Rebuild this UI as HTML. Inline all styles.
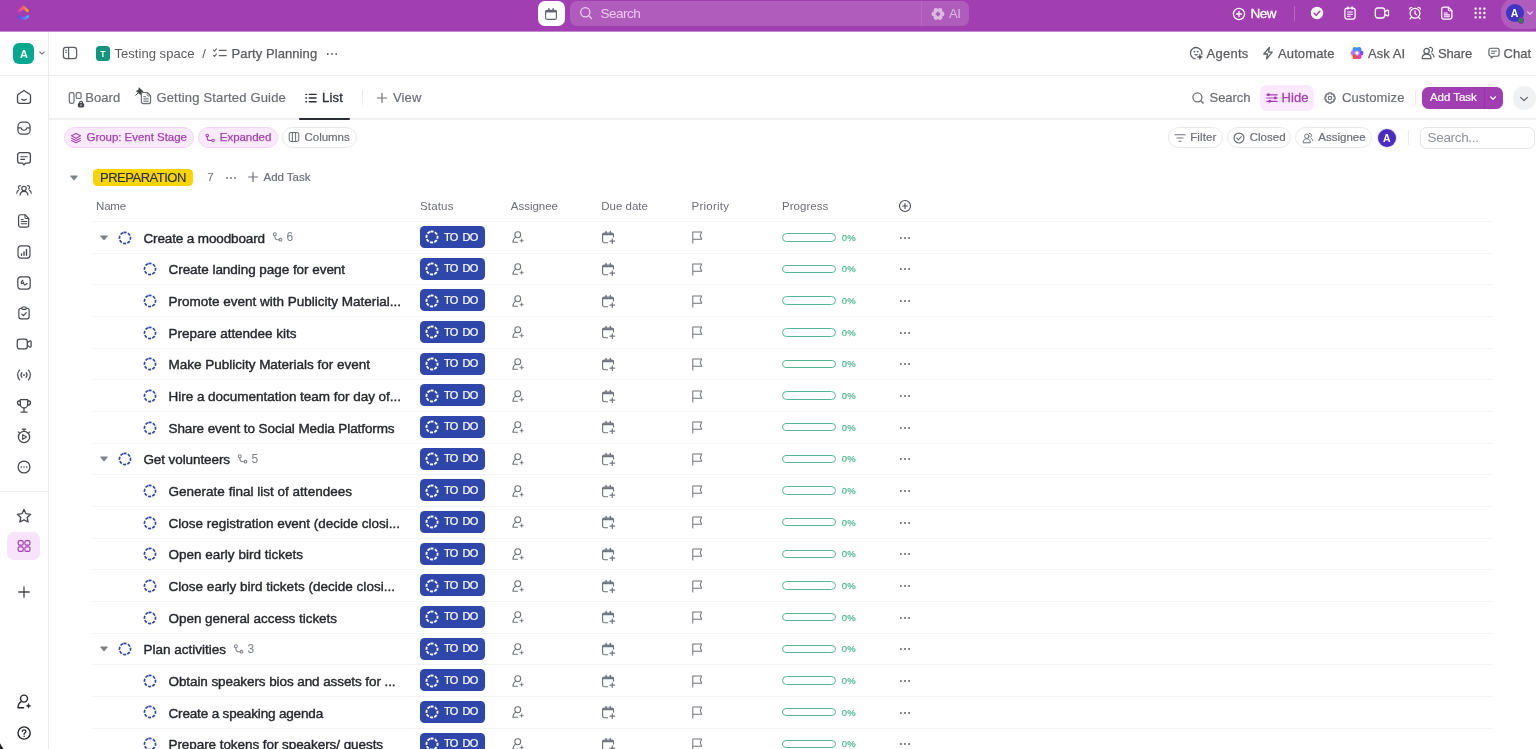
<!DOCTYPE html>
<html><head><meta charset="utf-8"><title>Party Planning</title>
<style>
html,body{margin:0;padding:0;}
body{width:1536px;height:749px;overflow:hidden;background:#fff;position:relative;font-family:"Liberation Sans",sans-serif;}
.t{position:absolute;white-space:nowrap;}
.b{position:absolute;box-sizing:border-box;}
#w{position:absolute;left:0;top:0;width:1536px;height:749px;will-change:transform;}
</style></head><body><div id="w">
<div class="b" style="left:0.00px;top:0.00px;width:1536.00px;height:31.00px;background:#a13fb2;"></div>
<div class="b" style="left:0.00px;top:31.00px;width:1536.00px;height:1.00px;background:#c48acf;"></div>
<div class="b" style="left:537.80px;top:1.00px;width:27.00px;height:25.00px;background:#fff;border-radius:7px;"></div>
<div class="b" style="left:570.00px;top:1.00px;width:398.50px;height:25.00px;background:#b05cbd;border-radius:7px;"></div>
<div class="b" style="left:921.00px;top:1.00px;width:1.00px;height:25.00px;background:#b768c3;"></div>
<div class="t" style="left:600.50px;top:3.60px;line-height:20px;font-size:13.5px;color:#e8cdec;letter-spacing:-0.479px;">Search</div>
<div class="t" style="left:949.00px;top:3.80px;line-height:20px;font-size:13px;color:#dcbbe2;letter-spacing:-0.491px;">AI</div>
<div class="t" style="left:1250.40px;top:3.60px;line-height:20px;font-size:13.5px;color:#ffffff;letter-spacing:-0.469px;-webkit-text-stroke:0.3px #ffffff;">New</div>
<div class="b" style="left:1294.00px;top:6.00px;width:1.00px;height:15.00px;background:#b768c3;"></div>
<div class="b" style="left:1500.80px;top:-2.00px;width:44.20px;height:30.50px;background:#b05cbd;border-radius:14px;"></div>
<div class="b" style="left:1505.50px;top:4.10px;width:18.00px;height:18.00px;background:#4034c4;border-radius:50%;"></div>
<div class="t" style="left:1510.70px;top:3.20px;line-height:20px;font-size:10.5px;color:#fff;letter-spacing:0.000px;font-weight:700;">A</div>
<div class="b" style="left:1517.90px;top:17.20px;width:6.40px;height:6.40px;background:#1f8a4c;border:0.8px solid #7a3a9a;border-radius:50%;"></div>
<div class="b" style="left:48.30px;top:32.00px;width:1.00px;height:717.00px;background:#ebebeb;"></div>
<div class="b" style="left:12.70px;top:42.50px;width:21.80px;height:21.70px;background:#02a98e;border-radius:6px;"></div>
<div class="t" style="left:19.90px;top:43.50px;line-height:20px;font-size:11px;color:#fff;letter-spacing:0.000px;font-weight:700;">A</div>
<div class="b" style="left:0.00px;top:75.00px;width:1536.00px;height:1.00px;background:#ebebeb;"></div>
<div class="b" style="left:0.00px;top:491.00px;width:48.30px;height:1.00px;background:#ebebeb;"></div>
<div class="b" style="left:95.90px;top:46.30px;width:14.40px;height:14.40px;background:#12947f;border-radius:3.5px;"></div>
<div class="t" style="left:100.35px;top:43.60px;line-height:20px;font-size:8.5px;color:#fff;letter-spacing:0.000px;font-weight:700;">T</div>
<div class="t" style="left:114.50px;top:44.40px;line-height:20px;font-size:13px;color:#595b5f;letter-spacing:0.039px;">Testing space</div>
<div class="t" style="left:202.30px;top:44.40px;line-height:20px;font-size:13px;color:#595b5f;letter-spacing:0.000px;">/</div>
<div class="t" style="left:231.60px;top:44.40px;line-height:20px;font-size:13px;color:#595b5f;letter-spacing:0.075px;-webkit-text-stroke:0.25px #595b5f;">Party Planning</div>
<div class="t" style="left:1206.50px;top:44.40px;line-height:20px;font-size:13px;color:#595b5f;letter-spacing:0.255px;-webkit-text-stroke:0.25px #595b5f;">Agents</div>
<div class="t" style="left:1278.00px;top:44.40px;line-height:20px;font-size:13px;color:#595b5f;letter-spacing:0.120px;-webkit-text-stroke:0.25px #595b5f;">Automate</div>
<div class="t" style="left:1368.10px;top:44.40px;line-height:20px;font-size:13px;color:#595b5f;letter-spacing:0.025px;-webkit-text-stroke:0.25px #595b5f;">Ask AI</div>
<div class="t" style="left:1438.00px;top:44.40px;line-height:20px;font-size:13px;color:#595b5f;letter-spacing:-0.138px;-webkit-text-stroke:0.25px #595b5f;">Share</div>
<div class="t" style="left:1503.50px;top:44.40px;line-height:20px;font-size:13px;color:#595b5f;letter-spacing:0.010px;-webkit-text-stroke:0.25px #595b5f;">Chat</div>
<div class="b" style="left:49.00px;top:118.00px;width:1487.00px;height:2.00px;background:#f0f0f0;"></div>
<div class="b" style="left:299.40px;top:118.00px;width:50.20px;height:2.00px;background:#2a2e34;border-radius:1px;"></div>
<div class="t" style="left:85.30px;top:87.60px;line-height:20px;font-size:13px;color:#6b6e75;letter-spacing:0.062px;-webkit-text-stroke:0.2px #6b6e75;">Board</div>
<div class="t" style="left:156.40px;top:87.60px;line-height:20px;font-size:13px;color:#6b6e75;letter-spacing:0.184px;-webkit-text-stroke:0.2px #6b6e75;">Getting Started Guide</div>
<div class="t" style="left:322.00px;top:87.60px;line-height:20px;font-size:13px;color:#2a2e34;letter-spacing:0.193px;-webkit-text-stroke:0.3px #2a2e34;">List</div>
<div class="b" style="left:361.50px;top:90.00px;width:1.00px;height:15.00px;background:#ebebeb;"></div>
<div class="t" style="left:393.00px;top:87.60px;line-height:20px;font-size:13px;color:#6b6e75;letter-spacing:0.139px;-webkit-text-stroke:0.2px #6b6e75;">View</div>
<div class="t" style="left:1209.50px;top:87.60px;line-height:20px;font-size:13px;color:#6b6e75;letter-spacing:-0.032px;-webkit-text-stroke:0.2px #6b6e75;">Search</div>
<div class="b" style="left:1260.00px;top:85.00px;width:54.00px;height:26.00px;background:#fbeafd;border-radius:6.5px;"></div>
<div class="t" style="left:1281.50px;top:87.60px;line-height:20px;font-size:13px;color:#a63fb5;letter-spacing:0.066px;-webkit-text-stroke:0.3px #a63fb5;">Hide</div>
<div class="t" style="left:1342.00px;top:87.60px;line-height:20px;font-size:13px;color:#6b6e75;letter-spacing:0.122px;-webkit-text-stroke:0.2px #6b6e75;">Customize</div>
<div class="b" style="left:1415.10px;top:90.20px;width:1.00px;height:14.80px;background:#ebebeb;"></div>
<div class="b" style="left:1421.80px;top:86.90px;width:80.80px;height:21.80px;background:#a13fb2;border-radius:6.5px;"></div>
<div class="b" style="left:1484.20px;top:86.90px;width:1.00px;height:21.80px;background:#9535a6;"></div>
<div class="t" style="left:1430.00px;top:87.00px;line-height:20px;font-size:11.5px;color:#fff;letter-spacing:-0.062px;-webkit-text-stroke:0.2px #fff;">Add Task</div>
<div class="b" style="left:1512.50px;top:86.00px;width:23.60px;height:23.60px;background:#f0f1f3;border-radius:50%;"></div>
<div class="b" style="left:63.50px;top:126.80px;width:130.30px;height:21.60px;background:#faebfc;border:1px solid #f1d4f5;border-radius:11px;"></div>
<div class="t" style="left:86.50px;top:126.70px;line-height:20px;font-size:11.5px;color:#a63fb5;letter-spacing:-0.034px;-webkit-text-stroke:0.25px #a63fb5;">Group: Event Stage</div>
<div class="b" style="left:197.50px;top:126.80px;width:80.00px;height:21.60px;background:#faebfc;border:1px solid #f1d4f5;border-radius:11px;"></div>
<div class="t" style="left:219.80px;top:126.70px;line-height:20px;font-size:11.5px;color:#a63fb5;letter-spacing:-0.037px;-webkit-text-stroke:0.25px #a63fb5;">Expanded</div>
<div class="b" style="left:281.70px;top:126.80px;width:75.00px;height:21.60px;background:#fff;border:1px solid #e6e8ec;border-radius:11px;"></div>
<div class="t" style="left:304.60px;top:126.70px;line-height:20px;font-size:11.5px;color:#6b6e75;letter-spacing:-0.054px;-webkit-text-stroke:0.2px #6b6e75;">Columns</div>
<div class="b" style="left:1167.60px;top:126.80px;width:55.30px;height:21.60px;background:#fff;border:1px solid #e6e8ec;border-radius:11px;"></div>
<div class="t" style="left:1190.20px;top:126.70px;line-height:20px;font-size:11.5px;color:#6b6e75;letter-spacing:0.141px;-webkit-text-stroke:0.2px #6b6e75;">Filter</div>
<div class="b" style="left:1226.60px;top:126.80px;width:64.90px;height:21.60px;background:#fff;border:1px solid #e6e8ec;border-radius:11px;"></div>
<div class="t" style="left:1249.70px;top:126.70px;line-height:20px;font-size:11.5px;color:#6b6e75;letter-spacing:0.034px;-webkit-text-stroke:0.2px #6b6e75;">Closed</div>
<div class="b" style="left:1295.20px;top:126.80px;width:76.70px;height:21.60px;background:#fff;border:1px solid #e6e8ec;border-radius:11px;"></div>
<div class="t" style="left:1318.30px;top:126.70px;line-height:20px;font-size:11.5px;color:#6b6e75;letter-spacing:-0.001px;-webkit-text-stroke:0.2px #6b6e75;">Assignee</div>
<div class="b" style="left:1376.70px;top:127.80px;width:20.40px;height:20.40px;background:#e3dff7;border-radius:50%;"></div>
<div class="b" style="left:1377.90px;top:129.00px;width:18.00px;height:18.00px;background:#4a2bc4;border-radius:50%;"></div>
<div class="t" style="left:1383.10px;top:128.00px;line-height:20px;font-size:10.5px;color:#fff;letter-spacing:0.000px;font-weight:700;">A</div>
<div class="b" style="left:1408.00px;top:130.00px;width:1.00px;height:15.00px;background:#ebebeb;"></div>
<div class="b" style="left:1420.30px;top:127.00px;width:115.10px;height:21.70px;background:#fff;border:1px solid #e2e5e9;border-radius:6.5px;"></div>
<div class="t" style="left:1427.60px;top:128.20px;line-height:20px;font-size:13.5px;color:#8d939c;letter-spacing:-0.336px;">Search...</div>
<div class="b" style="left:92.80px;top:169.00px;width:100.20px;height:16.80px;background:#f8d500;border-radius:4.5px;"></div>
<div class="t" style="left:100.00px;top:167.50px;line-height:20px;font-size:13px;color:#2a2e34;letter-spacing:-0.496px;-webkit-text-stroke:0.15px #2a2e34;">PREPARATION</div>
<div class="t" style="left:207.30px;top:167.30px;line-height:20px;font-size:11.5px;color:#6b6e75;letter-spacing:0.000px;">7</div>
<div class="t" style="left:263.50px;top:167.30px;line-height:20px;font-size:11.5px;color:#6b6e75;letter-spacing:-0.025px;-webkit-text-stroke:0.2px #6b6e75;">Add Task</div>
<div class="t" style="left:96.00px;top:196.20px;line-height:20px;font-size:11.5px;color:#6b6e75;letter-spacing:-0.169px;">Name</div>
<div class="t" style="left:420.00px;top:196.20px;line-height:20px;font-size:11.5px;color:#6b6e75;letter-spacing:0.166px;">Status</div>
<div class="t" style="left:510.80px;top:196.20px;line-height:20px;font-size:11.5px;color:#6b6e75;letter-spacing:-0.026px;">Assignee</div>
<div class="t" style="left:601.20px;top:196.20px;line-height:20px;font-size:11.5px;color:#6b6e75;letter-spacing:0.003px;">Due date</div>
<div class="t" style="left:691.60px;top:196.20px;line-height:20px;font-size:11.5px;color:#6b6e75;letter-spacing:0.227px;">Priority</div>
<div class="t" style="left:782.00px;top:196.20px;line-height:20px;font-size:11.5px;color:#6b6e75;letter-spacing:0.048px;">Progress</div>
<div class="b" style="left:93.00px;top:221.00px;width:1399.50px;height:1.00px;background:#f2f3f3;"></div>
<svg class="b" style="left:116.85px;top:229.58px" width="16" height="16" viewBox="0 0 16 16"><circle cx="8" cy="8" r="5.55" fill="none" stroke="#2f46ab" stroke-width="1.7" stroke-dasharray="3.051 1.308" transform="rotate(-105.75 8 8)"/></svg>
<svg class="b" style="left:99.50px;top:234.78px" width="8" height="6" viewBox="0 0 8 6"><path d="M0.9 0.6h6.2c0.5 0 0.7 0.5 0.4 0.9L4.5 5c-0.3 0.3-0.7 0.3-1 0L0.5 1.5C0.2 1.1 0.4 0.6 0.9 0.6z" fill="#7d8188"/></svg>
<div class="t" style="left:143.40px;top:228.63px;line-height:20px;font-size:13.5px;color:#25282d;letter-spacing:-0.124px;-webkit-text-stroke:0.4px #25282d;">Create a moodboard</div>
<svg class="b" style="left:271.30px;top:230.13px" width="14" height="14" viewBox="0 0 14 14" fill="none" stroke="#80858d" stroke-width="1.05" stroke-linecap="round"><circle cx="3.800" cy="4.300" r="1.500"/><circle cx="9.500" cy="9.700" r="1.350"/><path d="M3.900 5.900v1.200c0 1.500 1.100 2.600 2.600 2.600h1.600"/></svg>
<div class="t" style="left:286.40px;top:227.03px;line-height:20px;font-size:12px;color:#7a7f87;letter-spacing:0.000px;">6</div>
<div class="b" style="left:420.10px;top:226.13px;width:64.90px;height:21.80px;background:#2f46ab;border-radius:4.5px;"></div>
<svg class="b" style="left:423.60px;top:229.28px" width="16" height="16" viewBox="0 0 16 16"><circle cx="8" cy="8" r="5.55" fill="none" stroke="#fff" stroke-width="1.9" stroke-dasharray="3.051 1.308" transform="rotate(-105.75 8 8)"/></svg>
<div class="t" style="left:444.00px;top:226.53px;line-height:20px;font-size:11px;color:#fff;letter-spacing:-0.647px;word-spacing:2.2px;-webkit-text-stroke:0.2px #fff;">TO DO</div>
<svg class="b" style="left:510.00px;top:229.33px" width="16" height="16" viewBox="0 0 16 16" fill="none" stroke="#70747b" stroke-width="1.15" stroke-linecap="round" stroke-linejoin="round"><g transform="translate(0.45 0.6) scale(0.95)"><circle cx="7.7" cy="5.4" r="3.1"/><path d="M5.6 7.9C3.8 8.9 2.7 10.9 2.6 13.3H7.4"/><path d="M11.8 9.3c0.2 1.5 0.8 2.1 2.3 2.3c-1.5 0.2-2.1 0.8-2.3 2.3c-0.2-1.5-0.8-2.1-2.3-2.3c1.5-0.2 2.1-0.8 2.3-2.3z" fill="#70747b" stroke-width="0.3"/></g></svg>
<svg class="b" style="left:600.00px;top:229.33px" width="16" height="16" viewBox="0 0 16 16" fill="none" stroke="#70747b" stroke-width="1.15" stroke-linecap="round" stroke-linejoin="round"><path d="M7.600 13.700H4.400c-1 0-1.800-0.800-1.800-1.800V5.900c0-1 0.800-1.800 1.800-1.800h7.300c1 0 1.800 0.800 1.800 1.800v2.200"/><path d="M2.900 5.300h10.300" stroke-width="1.700"/><path d="M6.100 2.400v1.800M10.300 2.400v1.800" stroke-width="1.400"/><path d="M12.300 9.900v4.600M10 12.200h4.600" stroke-width="1.200"/></svg>
<svg class="b" style="left:689.90px;top:229.33px" width="16" height="16" viewBox="0 0 16 16" fill="none" stroke="#70747b" stroke-width="1.05" stroke-linecap="round" stroke-linejoin="round"><path d="M2.8 13.9V2.9h8.9L10.2 6.6l1.5 3.7H2.8"/></svg>
<div class="b" style="left:781.70px;top:233.13px;width:54.30px;height:8.40px;border:1.2px solid #52b891;border-radius:5px;background:#fff;"></div>
<div class="t" style="left:841.80px;top:227.73px;line-height:20px;font-size:9.5px;color:#52b891;letter-spacing:0.085px;-webkit-text-stroke:0.25px #52b891;">0%</div>
<svg class="b" style="left:897.00px;top:234.83px" width="16" height="6" viewBox="0 0 16 6"><circle cx="3.9000000000000004" cy="3" r="0.88" fill="#4d5158"/><circle cx="8" cy="3" r="0.88" fill="#4d5158"/><circle cx="12.1" cy="3" r="0.88" fill="#4d5158"/></svg>
<div class="b" style="left:93.00px;top:253.00px;width:1399.50px;height:1.00px;background:#f2f3f3;"></div>
<svg class="b" style="left:142.10px;top:261.24px" width="16" height="16" viewBox="0 0 16 16"><circle cx="8" cy="8" r="5.55" fill="none" stroke="#2f46ab" stroke-width="1.7" stroke-dasharray="3.051 1.308" transform="rotate(-105.75 8 8)"/></svg>
<div class="t" style="left:168.50px;top:260.29px;line-height:20px;font-size:13.5px;color:#25282d;letter-spacing:-0.047px;-webkit-text-stroke:0.4px #25282d;">Create landing page for event</div>
<div class="b" style="left:420.10px;top:257.79px;width:64.90px;height:21.80px;background:#2f46ab;border-radius:4.5px;"></div>
<svg class="b" style="left:423.60px;top:260.94px" width="16" height="16" viewBox="0 0 16 16"><circle cx="8" cy="8" r="5.55" fill="none" stroke="#fff" stroke-width="1.9" stroke-dasharray="3.051 1.308" transform="rotate(-105.75 8 8)"/></svg>
<div class="t" style="left:444.00px;top:258.19px;line-height:20px;font-size:11px;color:#fff;letter-spacing:-0.647px;word-spacing:2.2px;-webkit-text-stroke:0.2px #fff;">TO DO</div>
<svg class="b" style="left:510.00px;top:260.99px" width="16" height="16" viewBox="0 0 16 16" fill="none" stroke="#70747b" stroke-width="1.15" stroke-linecap="round" stroke-linejoin="round"><g transform="translate(0.45 0.6) scale(0.95)"><circle cx="7.7" cy="5.4" r="3.1"/><path d="M5.6 7.9C3.8 8.9 2.7 10.9 2.6 13.3H7.4"/><path d="M11.8 9.3c0.2 1.5 0.8 2.1 2.3 2.3c-1.5 0.2-2.1 0.8-2.3 2.3c-0.2-1.5-0.8-2.1-2.3-2.3c1.5-0.2 2.1-0.8 2.3-2.3z" fill="#70747b" stroke-width="0.3"/></g></svg>
<svg class="b" style="left:600.00px;top:260.99px" width="16" height="16" viewBox="0 0 16 16" fill="none" stroke="#70747b" stroke-width="1.15" stroke-linecap="round" stroke-linejoin="round"><path d="M7.600 13.700H4.400c-1 0-1.800-0.800-1.800-1.800V5.900c0-1 0.800-1.800 1.800-1.800h7.300c1 0 1.800 0.800 1.800 1.800v2.200"/><path d="M2.900 5.300h10.300" stroke-width="1.700"/><path d="M6.100 2.400v1.800M10.300 2.400v1.800" stroke-width="1.400"/><path d="M12.300 9.900v4.600M10 12.200h4.600" stroke-width="1.200"/></svg>
<svg class="b" style="left:689.90px;top:260.99px" width="16" height="16" viewBox="0 0 16 16" fill="none" stroke="#70747b" stroke-width="1.05" stroke-linecap="round" stroke-linejoin="round"><path d="M2.8 13.9V2.9h8.9L10.2 6.6l1.5 3.7H2.8"/></svg>
<div class="b" style="left:781.70px;top:264.79px;width:54.30px;height:8.40px;border:1.2px solid #52b891;border-radius:5px;background:#fff;"></div>
<div class="t" style="left:841.80px;top:259.39px;line-height:20px;font-size:9.5px;color:#52b891;letter-spacing:0.085px;-webkit-text-stroke:0.25px #52b891;">0%</div>
<svg class="b" style="left:897.00px;top:266.49px" width="16" height="6" viewBox="0 0 16 6"><circle cx="3.9000000000000004" cy="3" r="0.88" fill="#4d5158"/><circle cx="8" cy="3" r="0.88" fill="#4d5158"/><circle cx="12.1" cy="3" r="0.88" fill="#4d5158"/></svg>
<div class="b" style="left:93.00px;top:284.00px;width:1399.50px;height:1.00px;background:#f2f3f3;"></div>
<svg class="b" style="left:142.10px;top:292.90px" width="16" height="16" viewBox="0 0 16 16"><circle cx="8" cy="8" r="5.55" fill="none" stroke="#2f46ab" stroke-width="1.7" stroke-dasharray="3.051 1.308" transform="rotate(-105.75 8 8)"/></svg>
<div class="t" style="left:168.50px;top:291.95px;line-height:20px;font-size:13.5px;color:#25282d;letter-spacing:-0.002px;-webkit-text-stroke:0.4px #25282d;">Promote event with Publicity Material...</div>
<div class="b" style="left:420.10px;top:289.45px;width:64.90px;height:21.80px;background:#2f46ab;border-radius:4.5px;"></div>
<svg class="b" style="left:423.60px;top:292.60px" width="16" height="16" viewBox="0 0 16 16"><circle cx="8" cy="8" r="5.55" fill="none" stroke="#fff" stroke-width="1.9" stroke-dasharray="3.051 1.308" transform="rotate(-105.75 8 8)"/></svg>
<div class="t" style="left:444.00px;top:289.85px;line-height:20px;font-size:11px;color:#fff;letter-spacing:-0.647px;word-spacing:2.2px;-webkit-text-stroke:0.2px #fff;">TO DO</div>
<svg class="b" style="left:510.00px;top:292.65px" width="16" height="16" viewBox="0 0 16 16" fill="none" stroke="#70747b" stroke-width="1.15" stroke-linecap="round" stroke-linejoin="round"><g transform="translate(0.45 0.6) scale(0.95)"><circle cx="7.7" cy="5.4" r="3.1"/><path d="M5.6 7.9C3.8 8.9 2.7 10.9 2.6 13.3H7.4"/><path d="M11.8 9.3c0.2 1.5 0.8 2.1 2.3 2.3c-1.5 0.2-2.1 0.8-2.3 2.3c-0.2-1.5-0.8-2.1-2.3-2.3c1.5-0.2 2.1-0.8 2.3-2.3z" fill="#70747b" stroke-width="0.3"/></g></svg>
<svg class="b" style="left:600.00px;top:292.65px" width="16" height="16" viewBox="0 0 16 16" fill="none" stroke="#70747b" stroke-width="1.15" stroke-linecap="round" stroke-linejoin="round"><path d="M7.600 13.700H4.400c-1 0-1.800-0.800-1.800-1.800V5.900c0-1 0.800-1.800 1.800-1.800h7.300c1 0 1.800 0.800 1.800 1.800v2.200"/><path d="M2.900 5.300h10.300" stroke-width="1.700"/><path d="M6.100 2.400v1.800M10.300 2.400v1.800" stroke-width="1.400"/><path d="M12.300 9.900v4.600M10 12.200h4.600" stroke-width="1.200"/></svg>
<svg class="b" style="left:689.90px;top:292.65px" width="16" height="16" viewBox="0 0 16 16" fill="none" stroke="#70747b" stroke-width="1.05" stroke-linecap="round" stroke-linejoin="round"><path d="M2.8 13.9V2.9h8.9L10.2 6.6l1.5 3.7H2.8"/></svg>
<div class="b" style="left:781.70px;top:296.45px;width:54.30px;height:8.40px;border:1.2px solid #52b891;border-radius:5px;background:#fff;"></div>
<div class="t" style="left:841.80px;top:291.05px;line-height:20px;font-size:9.5px;color:#52b891;letter-spacing:0.085px;-webkit-text-stroke:0.25px #52b891;">0%</div>
<svg class="b" style="left:897.00px;top:298.15px" width="16" height="6" viewBox="0 0 16 6"><circle cx="3.9000000000000004" cy="3" r="0.88" fill="#4d5158"/><circle cx="8" cy="3" r="0.88" fill="#4d5158"/><circle cx="12.1" cy="3" r="0.88" fill="#4d5158"/></svg>
<div class="b" style="left:93.00px;top:316.00px;width:1399.50px;height:1.00px;background:#f2f3f3;"></div>
<svg class="b" style="left:142.10px;top:324.56px" width="16" height="16" viewBox="0 0 16 16"><circle cx="8" cy="8" r="5.55" fill="none" stroke="#2f46ab" stroke-width="1.7" stroke-dasharray="3.051 1.308" transform="rotate(-105.75 8 8)"/></svg>
<div class="t" style="left:168.50px;top:323.61px;line-height:20px;font-size:13.5px;color:#25282d;letter-spacing:-0.016px;-webkit-text-stroke:0.4px #25282d;">Prepare attendee kits</div>
<div class="b" style="left:420.10px;top:321.11px;width:64.90px;height:21.80px;background:#2f46ab;border-radius:4.5px;"></div>
<svg class="b" style="left:423.60px;top:324.26px" width="16" height="16" viewBox="0 0 16 16"><circle cx="8" cy="8" r="5.55" fill="none" stroke="#fff" stroke-width="1.9" stroke-dasharray="3.051 1.308" transform="rotate(-105.75 8 8)"/></svg>
<div class="t" style="left:444.00px;top:321.51px;line-height:20px;font-size:11px;color:#fff;letter-spacing:-0.647px;word-spacing:2.2px;-webkit-text-stroke:0.2px #fff;">TO DO</div>
<svg class="b" style="left:510.00px;top:324.31px" width="16" height="16" viewBox="0 0 16 16" fill="none" stroke="#70747b" stroke-width="1.15" stroke-linecap="round" stroke-linejoin="round"><g transform="translate(0.45 0.6) scale(0.95)"><circle cx="7.7" cy="5.4" r="3.1"/><path d="M5.6 7.9C3.8 8.9 2.7 10.9 2.6 13.3H7.4"/><path d="M11.8 9.3c0.2 1.5 0.8 2.1 2.3 2.3c-1.5 0.2-2.1 0.8-2.3 2.3c-0.2-1.5-0.8-2.1-2.3-2.3c1.5-0.2 2.1-0.8 2.3-2.3z" fill="#70747b" stroke-width="0.3"/></g></svg>
<svg class="b" style="left:600.00px;top:324.31px" width="16" height="16" viewBox="0 0 16 16" fill="none" stroke="#70747b" stroke-width="1.15" stroke-linecap="round" stroke-linejoin="round"><path d="M7.600 13.700H4.400c-1 0-1.800-0.800-1.800-1.800V5.900c0-1 0.800-1.800 1.800-1.800h7.300c1 0 1.800 0.800 1.800 1.800v2.200"/><path d="M2.900 5.300h10.300" stroke-width="1.700"/><path d="M6.100 2.400v1.800M10.300 2.400v1.800" stroke-width="1.400"/><path d="M12.300 9.900v4.600M10 12.200h4.600" stroke-width="1.200"/></svg>
<svg class="b" style="left:689.90px;top:324.31px" width="16" height="16" viewBox="0 0 16 16" fill="none" stroke="#70747b" stroke-width="1.05" stroke-linecap="round" stroke-linejoin="round"><path d="M2.8 13.9V2.9h8.9L10.2 6.6l1.5 3.7H2.8"/></svg>
<div class="b" style="left:781.70px;top:328.11px;width:54.30px;height:8.40px;border:1.2px solid #52b891;border-radius:5px;background:#fff;"></div>
<div class="t" style="left:841.80px;top:322.71px;line-height:20px;font-size:9.5px;color:#52b891;letter-spacing:0.085px;-webkit-text-stroke:0.25px #52b891;">0%</div>
<svg class="b" style="left:897.00px;top:329.81px" width="16" height="6" viewBox="0 0 16 6"><circle cx="3.9000000000000004" cy="3" r="0.88" fill="#4d5158"/><circle cx="8" cy="3" r="0.88" fill="#4d5158"/><circle cx="12.1" cy="3" r="0.88" fill="#4d5158"/></svg>
<div class="b" style="left:93.00px;top:348.00px;width:1399.50px;height:1.00px;background:#f2f3f3;"></div>
<svg class="b" style="left:142.10px;top:356.22px" width="16" height="16" viewBox="0 0 16 16"><circle cx="8" cy="8" r="5.55" fill="none" stroke="#2f46ab" stroke-width="1.7" stroke-dasharray="3.051 1.308" transform="rotate(-105.75 8 8)"/></svg>
<div class="t" style="left:168.50px;top:355.27px;line-height:20px;font-size:13.5px;color:#25282d;letter-spacing:-0.010px;-webkit-text-stroke:0.4px #25282d;">Make Publicity Materials for event</div>
<div class="b" style="left:420.10px;top:352.77px;width:64.90px;height:21.80px;background:#2f46ab;border-radius:4.5px;"></div>
<svg class="b" style="left:423.60px;top:355.92px" width="16" height="16" viewBox="0 0 16 16"><circle cx="8" cy="8" r="5.55" fill="none" stroke="#fff" stroke-width="1.9" stroke-dasharray="3.051 1.308" transform="rotate(-105.75 8 8)"/></svg>
<div class="t" style="left:444.00px;top:353.17px;line-height:20px;font-size:11px;color:#fff;letter-spacing:-0.647px;word-spacing:2.2px;-webkit-text-stroke:0.2px #fff;">TO DO</div>
<svg class="b" style="left:510.00px;top:355.97px" width="16" height="16" viewBox="0 0 16 16" fill="none" stroke="#70747b" stroke-width="1.15" stroke-linecap="round" stroke-linejoin="round"><g transform="translate(0.45 0.6) scale(0.95)"><circle cx="7.7" cy="5.4" r="3.1"/><path d="M5.6 7.9C3.8 8.9 2.7 10.9 2.6 13.3H7.4"/><path d="M11.8 9.3c0.2 1.5 0.8 2.1 2.3 2.3c-1.5 0.2-2.1 0.8-2.3 2.3c-0.2-1.5-0.8-2.1-2.3-2.3c1.5-0.2 2.1-0.8 2.3-2.3z" fill="#70747b" stroke-width="0.3"/></g></svg>
<svg class="b" style="left:600.00px;top:355.97px" width="16" height="16" viewBox="0 0 16 16" fill="none" stroke="#70747b" stroke-width="1.15" stroke-linecap="round" stroke-linejoin="round"><path d="M7.600 13.700H4.400c-1 0-1.800-0.800-1.800-1.800V5.900c0-1 0.800-1.800 1.800-1.800h7.300c1 0 1.800 0.800 1.800 1.800v2.200"/><path d="M2.900 5.300h10.300" stroke-width="1.700"/><path d="M6.100 2.400v1.800M10.300 2.400v1.800" stroke-width="1.400"/><path d="M12.300 9.900v4.600M10 12.200h4.600" stroke-width="1.200"/></svg>
<svg class="b" style="left:689.90px;top:355.97px" width="16" height="16" viewBox="0 0 16 16" fill="none" stroke="#70747b" stroke-width="1.05" stroke-linecap="round" stroke-linejoin="round"><path d="M2.8 13.9V2.9h8.9L10.2 6.6l1.5 3.7H2.8"/></svg>
<div class="b" style="left:781.70px;top:359.77px;width:54.30px;height:8.40px;border:1.2px solid #52b891;border-radius:5px;background:#fff;"></div>
<div class="t" style="left:841.80px;top:354.37px;line-height:20px;font-size:9.5px;color:#52b891;letter-spacing:0.085px;-webkit-text-stroke:0.25px #52b891;">0%</div>
<svg class="b" style="left:897.00px;top:361.47px" width="16" height="6" viewBox="0 0 16 6"><circle cx="3.9000000000000004" cy="3" r="0.88" fill="#4d5158"/><circle cx="8" cy="3" r="0.88" fill="#4d5158"/><circle cx="12.1" cy="3" r="0.88" fill="#4d5158"/></svg>
<div class="b" style="left:93.00px;top:379.00px;width:1399.50px;height:1.00px;background:#f2f3f3;"></div>
<svg class="b" style="left:142.10px;top:387.88px" width="16" height="16" viewBox="0 0 16 16"><circle cx="8" cy="8" r="5.55" fill="none" stroke="#2f46ab" stroke-width="1.7" stroke-dasharray="3.051 1.308" transform="rotate(-105.75 8 8)"/></svg>
<div class="t" style="left:168.50px;top:386.93px;line-height:20px;font-size:13.5px;color:#25282d;letter-spacing:-0.022px;-webkit-text-stroke:0.4px #25282d;">Hire a documentation team for day of...</div>
<div class="b" style="left:420.10px;top:384.43px;width:64.90px;height:21.80px;background:#2f46ab;border-radius:4.5px;"></div>
<svg class="b" style="left:423.60px;top:387.58px" width="16" height="16" viewBox="0 0 16 16"><circle cx="8" cy="8" r="5.55" fill="none" stroke="#fff" stroke-width="1.9" stroke-dasharray="3.051 1.308" transform="rotate(-105.75 8 8)"/></svg>
<div class="t" style="left:444.00px;top:384.83px;line-height:20px;font-size:11px;color:#fff;letter-spacing:-0.647px;word-spacing:2.2px;-webkit-text-stroke:0.2px #fff;">TO DO</div>
<svg class="b" style="left:510.00px;top:387.63px" width="16" height="16" viewBox="0 0 16 16" fill="none" stroke="#70747b" stroke-width="1.15" stroke-linecap="round" stroke-linejoin="round"><g transform="translate(0.45 0.6) scale(0.95)"><circle cx="7.7" cy="5.4" r="3.1"/><path d="M5.6 7.9C3.8 8.9 2.7 10.9 2.6 13.3H7.4"/><path d="M11.8 9.3c0.2 1.5 0.8 2.1 2.3 2.3c-1.5 0.2-2.1 0.8-2.3 2.3c-0.2-1.5-0.8-2.1-2.3-2.3c1.5-0.2 2.1-0.8 2.3-2.3z" fill="#70747b" stroke-width="0.3"/></g></svg>
<svg class="b" style="left:600.00px;top:387.63px" width="16" height="16" viewBox="0 0 16 16" fill="none" stroke="#70747b" stroke-width="1.15" stroke-linecap="round" stroke-linejoin="round"><path d="M7.600 13.700H4.400c-1 0-1.800-0.800-1.800-1.800V5.900c0-1 0.800-1.800 1.800-1.800h7.300c1 0 1.800 0.800 1.800 1.800v2.200"/><path d="M2.900 5.300h10.300" stroke-width="1.700"/><path d="M6.100 2.400v1.800M10.300 2.400v1.800" stroke-width="1.400"/><path d="M12.300 9.900v4.600M10 12.200h4.600" stroke-width="1.200"/></svg>
<svg class="b" style="left:689.90px;top:387.63px" width="16" height="16" viewBox="0 0 16 16" fill="none" stroke="#70747b" stroke-width="1.05" stroke-linecap="round" stroke-linejoin="round"><path d="M2.8 13.9V2.9h8.9L10.2 6.6l1.5 3.7H2.8"/></svg>
<div class="b" style="left:781.70px;top:391.43px;width:54.30px;height:8.40px;border:1.2px solid #52b891;border-radius:5px;background:#fff;"></div>
<div class="t" style="left:841.80px;top:386.03px;line-height:20px;font-size:9.5px;color:#52b891;letter-spacing:0.085px;-webkit-text-stroke:0.25px #52b891;">0%</div>
<svg class="b" style="left:897.00px;top:393.13px" width="16" height="6" viewBox="0 0 16 6"><circle cx="3.9000000000000004" cy="3" r="0.88" fill="#4d5158"/><circle cx="8" cy="3" r="0.88" fill="#4d5158"/><circle cx="12.1" cy="3" r="0.88" fill="#4d5158"/></svg>
<div class="b" style="left:93.00px;top:411.00px;width:1399.50px;height:1.00px;background:#f2f3f3;"></div>
<svg class="b" style="left:142.10px;top:419.54px" width="16" height="16" viewBox="0 0 16 16"><circle cx="8" cy="8" r="5.55" fill="none" stroke="#2f46ab" stroke-width="1.7" stroke-dasharray="3.051 1.308" transform="rotate(-105.75 8 8)"/></svg>
<div class="t" style="left:168.50px;top:418.59px;line-height:20px;font-size:13.5px;color:#25282d;letter-spacing:-0.098px;-webkit-text-stroke:0.4px #25282d;">Share event to Social Media Platforms</div>
<div class="b" style="left:420.10px;top:416.09px;width:64.90px;height:21.80px;background:#2f46ab;border-radius:4.5px;"></div>
<svg class="b" style="left:423.60px;top:419.24px" width="16" height="16" viewBox="0 0 16 16"><circle cx="8" cy="8" r="5.55" fill="none" stroke="#fff" stroke-width="1.9" stroke-dasharray="3.051 1.308" transform="rotate(-105.75 8 8)"/></svg>
<div class="t" style="left:444.00px;top:416.49px;line-height:20px;font-size:11px;color:#fff;letter-spacing:-0.647px;word-spacing:2.2px;-webkit-text-stroke:0.2px #fff;">TO DO</div>
<svg class="b" style="left:510.00px;top:419.29px" width="16" height="16" viewBox="0 0 16 16" fill="none" stroke="#70747b" stroke-width="1.15" stroke-linecap="round" stroke-linejoin="round"><g transform="translate(0.45 0.6) scale(0.95)"><circle cx="7.7" cy="5.4" r="3.1"/><path d="M5.6 7.9C3.8 8.9 2.7 10.9 2.6 13.3H7.4"/><path d="M11.8 9.3c0.2 1.5 0.8 2.1 2.3 2.3c-1.5 0.2-2.1 0.8-2.3 2.3c-0.2-1.5-0.8-2.1-2.3-2.3c1.5-0.2 2.1-0.8 2.3-2.3z" fill="#70747b" stroke-width="0.3"/></g></svg>
<svg class="b" style="left:600.00px;top:419.29px" width="16" height="16" viewBox="0 0 16 16" fill="none" stroke="#70747b" stroke-width="1.15" stroke-linecap="round" stroke-linejoin="round"><path d="M7.600 13.700H4.400c-1 0-1.800-0.800-1.800-1.800V5.900c0-1 0.800-1.800 1.800-1.800h7.300c1 0 1.800 0.800 1.800 1.800v2.200"/><path d="M2.900 5.300h10.300" stroke-width="1.700"/><path d="M6.100 2.400v1.800M10.300 2.400v1.800" stroke-width="1.400"/><path d="M12.300 9.900v4.600M10 12.200h4.600" stroke-width="1.200"/></svg>
<svg class="b" style="left:689.90px;top:419.29px" width="16" height="16" viewBox="0 0 16 16" fill="none" stroke="#70747b" stroke-width="1.05" stroke-linecap="round" stroke-linejoin="round"><path d="M2.8 13.9V2.9h8.9L10.2 6.6l1.5 3.7H2.8"/></svg>
<div class="b" style="left:781.70px;top:423.09px;width:54.30px;height:8.40px;border:1.2px solid #52b891;border-radius:5px;background:#fff;"></div>
<div class="t" style="left:841.80px;top:417.69px;line-height:20px;font-size:9.5px;color:#52b891;letter-spacing:0.085px;-webkit-text-stroke:0.25px #52b891;">0%</div>
<svg class="b" style="left:897.00px;top:424.79px" width="16" height="6" viewBox="0 0 16 6"><circle cx="3.9000000000000004" cy="3" r="0.88" fill="#4d5158"/><circle cx="8" cy="3" r="0.88" fill="#4d5158"/><circle cx="12.1" cy="3" r="0.88" fill="#4d5158"/></svg>
<div class="b" style="left:93.00px;top:443.00px;width:1399.50px;height:1.00px;background:#f2f3f3;"></div>
<svg class="b" style="left:116.85px;top:451.20px" width="16" height="16" viewBox="0 0 16 16"><circle cx="8" cy="8" r="5.55" fill="none" stroke="#2f46ab" stroke-width="1.7" stroke-dasharray="3.051 1.308" transform="rotate(-105.75 8 8)"/></svg>
<svg class="b" style="left:99.50px;top:456.40px" width="8" height="6" viewBox="0 0 8 6"><path d="M0.9 0.6h6.2c0.5 0 0.7 0.5 0.4 0.9L4.5 5c-0.3 0.3-0.7 0.3-1 0L0.5 1.5C0.2 1.1 0.4 0.6 0.9 0.6z" fill="#7d8188"/></svg>
<div class="t" style="left:143.40px;top:450.25px;line-height:20px;font-size:13.5px;color:#25282d;letter-spacing:-0.085px;-webkit-text-stroke:0.4px #25282d;">Get volunteers</div>
<svg class="b" style="left:236.30px;top:451.75px" width="14" height="14" viewBox="0 0 14 14" fill="none" stroke="#80858d" stroke-width="1.05" stroke-linecap="round"><circle cx="3.800" cy="4.300" r="1.500"/><circle cx="9.500" cy="9.700" r="1.350"/><path d="M3.900 5.900v1.200c0 1.500 1.100 2.600 2.600 2.600h1.600"/></svg>
<div class="t" style="left:251.40px;top:448.65px;line-height:20px;font-size:12px;color:#7a7f87;letter-spacing:0.000px;">5</div>
<div class="b" style="left:420.10px;top:447.75px;width:64.90px;height:21.80px;background:#2f46ab;border-radius:4.5px;"></div>
<svg class="b" style="left:423.60px;top:450.90px" width="16" height="16" viewBox="0 0 16 16"><circle cx="8" cy="8" r="5.55" fill="none" stroke="#fff" stroke-width="1.9" stroke-dasharray="3.051 1.308" transform="rotate(-105.75 8 8)"/></svg>
<div class="t" style="left:444.00px;top:448.15px;line-height:20px;font-size:11px;color:#fff;letter-spacing:-0.647px;word-spacing:2.2px;-webkit-text-stroke:0.2px #fff;">TO DO</div>
<svg class="b" style="left:510.00px;top:450.95px" width="16" height="16" viewBox="0 0 16 16" fill="none" stroke="#70747b" stroke-width="1.15" stroke-linecap="round" stroke-linejoin="round"><g transform="translate(0.45 0.6) scale(0.95)"><circle cx="7.7" cy="5.4" r="3.1"/><path d="M5.6 7.9C3.8 8.9 2.7 10.9 2.6 13.3H7.4"/><path d="M11.8 9.3c0.2 1.5 0.8 2.1 2.3 2.3c-1.5 0.2-2.1 0.8-2.3 2.3c-0.2-1.5-0.8-2.1-2.3-2.3c1.5-0.2 2.1-0.8 2.3-2.3z" fill="#70747b" stroke-width="0.3"/></g></svg>
<svg class="b" style="left:600.00px;top:450.95px" width="16" height="16" viewBox="0 0 16 16" fill="none" stroke="#70747b" stroke-width="1.15" stroke-linecap="round" stroke-linejoin="round"><path d="M7.600 13.700H4.400c-1 0-1.800-0.800-1.800-1.800V5.900c0-1 0.800-1.800 1.800-1.800h7.300c1 0 1.800 0.800 1.800 1.800v2.200"/><path d="M2.900 5.300h10.300" stroke-width="1.700"/><path d="M6.100 2.400v1.800M10.300 2.400v1.800" stroke-width="1.400"/><path d="M12.300 9.900v4.600M10 12.200h4.600" stroke-width="1.200"/></svg>
<svg class="b" style="left:689.90px;top:450.95px" width="16" height="16" viewBox="0 0 16 16" fill="none" stroke="#70747b" stroke-width="1.05" stroke-linecap="round" stroke-linejoin="round"><path d="M2.8 13.9V2.9h8.9L10.2 6.6l1.5 3.7H2.8"/></svg>
<div class="b" style="left:781.70px;top:454.75px;width:54.30px;height:8.40px;border:1.2px solid #52b891;border-radius:5px;background:#fff;"></div>
<div class="t" style="left:841.80px;top:449.35px;line-height:20px;font-size:9.5px;color:#52b891;letter-spacing:0.085px;-webkit-text-stroke:0.25px #52b891;">0%</div>
<svg class="b" style="left:897.00px;top:456.45px" width="16" height="6" viewBox="0 0 16 6"><circle cx="3.9000000000000004" cy="3" r="0.88" fill="#4d5158"/><circle cx="8" cy="3" r="0.88" fill="#4d5158"/><circle cx="12.1" cy="3" r="0.88" fill="#4d5158"/></svg>
<div class="b" style="left:93.00px;top:474.00px;width:1399.50px;height:1.00px;background:#f2f3f3;"></div>
<svg class="b" style="left:142.10px;top:482.86px" width="16" height="16" viewBox="0 0 16 16"><circle cx="8" cy="8" r="5.55" fill="none" stroke="#2f46ab" stroke-width="1.7" stroke-dasharray="3.051 1.308" transform="rotate(-105.75 8 8)"/></svg>
<div class="t" style="left:168.50px;top:481.91px;line-height:20px;font-size:13.5px;color:#25282d;letter-spacing:0.012px;-webkit-text-stroke:0.4px #25282d;">Generate final list of attendees</div>
<div class="b" style="left:420.10px;top:479.41px;width:64.90px;height:21.80px;background:#2f46ab;border-radius:4.5px;"></div>
<svg class="b" style="left:423.60px;top:482.56px" width="16" height="16" viewBox="0 0 16 16"><circle cx="8" cy="8" r="5.55" fill="none" stroke="#fff" stroke-width="1.9" stroke-dasharray="3.051 1.308" transform="rotate(-105.75 8 8)"/></svg>
<div class="t" style="left:444.00px;top:479.81px;line-height:20px;font-size:11px;color:#fff;letter-spacing:-0.647px;word-spacing:2.2px;-webkit-text-stroke:0.2px #fff;">TO DO</div>
<svg class="b" style="left:510.00px;top:482.61px" width="16" height="16" viewBox="0 0 16 16" fill="none" stroke="#70747b" stroke-width="1.15" stroke-linecap="round" stroke-linejoin="round"><g transform="translate(0.45 0.6) scale(0.95)"><circle cx="7.7" cy="5.4" r="3.1"/><path d="M5.6 7.9C3.8 8.9 2.7 10.9 2.6 13.3H7.4"/><path d="M11.8 9.3c0.2 1.5 0.8 2.1 2.3 2.3c-1.5 0.2-2.1 0.8-2.3 2.3c-0.2-1.5-0.8-2.1-2.3-2.3c1.5-0.2 2.1-0.8 2.3-2.3z" fill="#70747b" stroke-width="0.3"/></g></svg>
<svg class="b" style="left:600.00px;top:482.61px" width="16" height="16" viewBox="0 0 16 16" fill="none" stroke="#70747b" stroke-width="1.15" stroke-linecap="round" stroke-linejoin="round"><path d="M7.600 13.700H4.400c-1 0-1.800-0.800-1.800-1.800V5.900c0-1 0.800-1.800 1.800-1.800h7.300c1 0 1.800 0.800 1.800 1.800v2.200"/><path d="M2.900 5.300h10.300" stroke-width="1.700"/><path d="M6.100 2.400v1.800M10.300 2.400v1.800" stroke-width="1.400"/><path d="M12.300 9.900v4.600M10 12.200h4.600" stroke-width="1.200"/></svg>
<svg class="b" style="left:689.90px;top:482.61px" width="16" height="16" viewBox="0 0 16 16" fill="none" stroke="#70747b" stroke-width="1.05" stroke-linecap="round" stroke-linejoin="round"><path d="M2.8 13.9V2.9h8.9L10.2 6.6l1.5 3.7H2.8"/></svg>
<div class="b" style="left:781.70px;top:486.41px;width:54.30px;height:8.40px;border:1.2px solid #52b891;border-radius:5px;background:#fff;"></div>
<div class="t" style="left:841.80px;top:481.01px;line-height:20px;font-size:9.5px;color:#52b891;letter-spacing:0.085px;-webkit-text-stroke:0.25px #52b891;">0%</div>
<svg class="b" style="left:897.00px;top:488.11px" width="16" height="6" viewBox="0 0 16 6"><circle cx="3.9000000000000004" cy="3" r="0.88" fill="#4d5158"/><circle cx="8" cy="3" r="0.88" fill="#4d5158"/><circle cx="12.1" cy="3" r="0.88" fill="#4d5158"/></svg>
<div class="b" style="left:93.00px;top:506.00px;width:1399.50px;height:1.00px;background:#f2f3f3;"></div>
<svg class="b" style="left:142.10px;top:514.52px" width="16" height="16" viewBox="0 0 16 16"><circle cx="8" cy="8" r="5.55" fill="none" stroke="#2f46ab" stroke-width="1.7" stroke-dasharray="3.051 1.308" transform="rotate(-105.75 8 8)"/></svg>
<div class="t" style="left:168.50px;top:513.57px;line-height:20px;font-size:13.5px;color:#25282d;letter-spacing:-0.009px;-webkit-text-stroke:0.4px #25282d;">Close registration event (decide closi...</div>
<div class="b" style="left:420.10px;top:511.07px;width:64.90px;height:21.80px;background:#2f46ab;border-radius:4.5px;"></div>
<svg class="b" style="left:423.60px;top:514.22px" width="16" height="16" viewBox="0 0 16 16"><circle cx="8" cy="8" r="5.55" fill="none" stroke="#fff" stroke-width="1.9" stroke-dasharray="3.051 1.308" transform="rotate(-105.75 8 8)"/></svg>
<div class="t" style="left:444.00px;top:511.47px;line-height:20px;font-size:11px;color:#fff;letter-spacing:-0.647px;word-spacing:2.2px;-webkit-text-stroke:0.2px #fff;">TO DO</div>
<svg class="b" style="left:510.00px;top:514.27px" width="16" height="16" viewBox="0 0 16 16" fill="none" stroke="#70747b" stroke-width="1.15" stroke-linecap="round" stroke-linejoin="round"><g transform="translate(0.45 0.6) scale(0.95)"><circle cx="7.7" cy="5.4" r="3.1"/><path d="M5.6 7.9C3.8 8.9 2.7 10.9 2.6 13.3H7.4"/><path d="M11.8 9.3c0.2 1.5 0.8 2.1 2.3 2.3c-1.5 0.2-2.1 0.8-2.3 2.3c-0.2-1.5-0.8-2.1-2.3-2.3c1.5-0.2 2.1-0.8 2.3-2.3z" fill="#70747b" stroke-width="0.3"/></g></svg>
<svg class="b" style="left:600.00px;top:514.27px" width="16" height="16" viewBox="0 0 16 16" fill="none" stroke="#70747b" stroke-width="1.15" stroke-linecap="round" stroke-linejoin="round"><path d="M7.600 13.700H4.400c-1 0-1.800-0.800-1.800-1.800V5.900c0-1 0.800-1.800 1.800-1.800h7.300c1 0 1.800 0.800 1.800 1.800v2.200"/><path d="M2.900 5.300h10.300" stroke-width="1.700"/><path d="M6.100 2.400v1.800M10.300 2.400v1.800" stroke-width="1.400"/><path d="M12.300 9.900v4.600M10 12.200h4.600" stroke-width="1.200"/></svg>
<svg class="b" style="left:689.90px;top:514.27px" width="16" height="16" viewBox="0 0 16 16" fill="none" stroke="#70747b" stroke-width="1.05" stroke-linecap="round" stroke-linejoin="round"><path d="M2.8 13.9V2.9h8.9L10.2 6.6l1.5 3.7H2.8"/></svg>
<div class="b" style="left:781.70px;top:518.07px;width:54.30px;height:8.40px;border:1.2px solid #52b891;border-radius:5px;background:#fff;"></div>
<div class="t" style="left:841.80px;top:512.67px;line-height:20px;font-size:9.5px;color:#52b891;letter-spacing:0.085px;-webkit-text-stroke:0.25px #52b891;">0%</div>
<svg class="b" style="left:897.00px;top:519.77px" width="16" height="6" viewBox="0 0 16 6"><circle cx="3.9000000000000004" cy="3" r="0.88" fill="#4d5158"/><circle cx="8" cy="3" r="0.88" fill="#4d5158"/><circle cx="12.1" cy="3" r="0.88" fill="#4d5158"/></svg>
<div class="b" style="left:93.00px;top:538.00px;width:1399.50px;height:1.00px;background:#f2f3f3;"></div>
<svg class="b" style="left:142.10px;top:546.18px" width="16" height="16" viewBox="0 0 16 16"><circle cx="8" cy="8" r="5.55" fill="none" stroke="#2f46ab" stroke-width="1.7" stroke-dasharray="3.051 1.308" transform="rotate(-105.75 8 8)"/></svg>
<div class="t" style="left:168.50px;top:545.23px;line-height:20px;font-size:13.5px;color:#25282d;letter-spacing:0.008px;-webkit-text-stroke:0.4px #25282d;">Open early bird tickets</div>
<div class="b" style="left:420.10px;top:542.73px;width:64.90px;height:21.80px;background:#2f46ab;border-radius:4.5px;"></div>
<svg class="b" style="left:423.60px;top:545.88px" width="16" height="16" viewBox="0 0 16 16"><circle cx="8" cy="8" r="5.55" fill="none" stroke="#fff" stroke-width="1.9" stroke-dasharray="3.051 1.308" transform="rotate(-105.75 8 8)"/></svg>
<div class="t" style="left:444.00px;top:543.13px;line-height:20px;font-size:11px;color:#fff;letter-spacing:-0.647px;word-spacing:2.2px;-webkit-text-stroke:0.2px #fff;">TO DO</div>
<svg class="b" style="left:510.00px;top:545.93px" width="16" height="16" viewBox="0 0 16 16" fill="none" stroke="#70747b" stroke-width="1.15" stroke-linecap="round" stroke-linejoin="round"><g transform="translate(0.45 0.6) scale(0.95)"><circle cx="7.7" cy="5.4" r="3.1"/><path d="M5.6 7.9C3.8 8.9 2.7 10.9 2.6 13.3H7.4"/><path d="M11.8 9.3c0.2 1.5 0.8 2.1 2.3 2.3c-1.5 0.2-2.1 0.8-2.3 2.3c-0.2-1.5-0.8-2.1-2.3-2.3c1.5-0.2 2.1-0.8 2.3-2.3z" fill="#70747b" stroke-width="0.3"/></g></svg>
<svg class="b" style="left:600.00px;top:545.93px" width="16" height="16" viewBox="0 0 16 16" fill="none" stroke="#70747b" stroke-width="1.15" stroke-linecap="round" stroke-linejoin="round"><path d="M7.600 13.700H4.400c-1 0-1.800-0.800-1.800-1.800V5.900c0-1 0.800-1.800 1.800-1.800h7.300c1 0 1.800 0.800 1.800 1.800v2.200"/><path d="M2.900 5.300h10.300" stroke-width="1.700"/><path d="M6.100 2.400v1.800M10.300 2.400v1.800" stroke-width="1.400"/><path d="M12.300 9.900v4.600M10 12.200h4.600" stroke-width="1.200"/></svg>
<svg class="b" style="left:689.90px;top:545.93px" width="16" height="16" viewBox="0 0 16 16" fill="none" stroke="#70747b" stroke-width="1.05" stroke-linecap="round" stroke-linejoin="round"><path d="M2.8 13.9V2.9h8.9L10.2 6.6l1.5 3.7H2.8"/></svg>
<div class="b" style="left:781.70px;top:549.73px;width:54.30px;height:8.40px;border:1.2px solid #52b891;border-radius:5px;background:#fff;"></div>
<div class="t" style="left:841.80px;top:544.33px;line-height:20px;font-size:9.5px;color:#52b891;letter-spacing:0.085px;-webkit-text-stroke:0.25px #52b891;">0%</div>
<svg class="b" style="left:897.00px;top:551.43px" width="16" height="6" viewBox="0 0 16 6"><circle cx="3.9000000000000004" cy="3" r="0.88" fill="#4d5158"/><circle cx="8" cy="3" r="0.88" fill="#4d5158"/><circle cx="12.1" cy="3" r="0.88" fill="#4d5158"/></svg>
<div class="b" style="left:93.00px;top:569.00px;width:1399.50px;height:1.00px;background:#f2f3f3;"></div>
<svg class="b" style="left:142.10px;top:577.84px" width="16" height="16" viewBox="0 0 16 16"><circle cx="8" cy="8" r="5.55" fill="none" stroke="#2f46ab" stroke-width="1.7" stroke-dasharray="3.051 1.308" transform="rotate(-105.75 8 8)"/></svg>
<div class="t" style="left:168.50px;top:576.89px;line-height:20px;font-size:13.5px;color:#25282d;letter-spacing:0.016px;-webkit-text-stroke:0.4px #25282d;">Close early bird tickets (decide closi...</div>
<div class="b" style="left:420.10px;top:574.39px;width:64.90px;height:21.80px;background:#2f46ab;border-radius:4.5px;"></div>
<svg class="b" style="left:423.60px;top:577.54px" width="16" height="16" viewBox="0 0 16 16"><circle cx="8" cy="8" r="5.55" fill="none" stroke="#fff" stroke-width="1.9" stroke-dasharray="3.051 1.308" transform="rotate(-105.75 8 8)"/></svg>
<div class="t" style="left:444.00px;top:574.79px;line-height:20px;font-size:11px;color:#fff;letter-spacing:-0.647px;word-spacing:2.2px;-webkit-text-stroke:0.2px #fff;">TO DO</div>
<svg class="b" style="left:510.00px;top:577.59px" width="16" height="16" viewBox="0 0 16 16" fill="none" stroke="#70747b" stroke-width="1.15" stroke-linecap="round" stroke-linejoin="round"><g transform="translate(0.45 0.6) scale(0.95)"><circle cx="7.7" cy="5.4" r="3.1"/><path d="M5.6 7.9C3.8 8.9 2.7 10.9 2.6 13.3H7.4"/><path d="M11.8 9.3c0.2 1.5 0.8 2.1 2.3 2.3c-1.5 0.2-2.1 0.8-2.3 2.3c-0.2-1.5-0.8-2.1-2.3-2.3c1.5-0.2 2.1-0.8 2.3-2.3z" fill="#70747b" stroke-width="0.3"/></g></svg>
<svg class="b" style="left:600.00px;top:577.59px" width="16" height="16" viewBox="0 0 16 16" fill="none" stroke="#70747b" stroke-width="1.15" stroke-linecap="round" stroke-linejoin="round"><path d="M7.600 13.700H4.400c-1 0-1.800-0.800-1.800-1.800V5.900c0-1 0.800-1.800 1.800-1.800h7.300c1 0 1.800 0.800 1.800 1.800v2.200"/><path d="M2.900 5.300h10.300" stroke-width="1.700"/><path d="M6.100 2.400v1.800M10.300 2.400v1.800" stroke-width="1.400"/><path d="M12.300 9.900v4.600M10 12.200h4.600" stroke-width="1.200"/></svg>
<svg class="b" style="left:689.90px;top:577.59px" width="16" height="16" viewBox="0 0 16 16" fill="none" stroke="#70747b" stroke-width="1.05" stroke-linecap="round" stroke-linejoin="round"><path d="M2.8 13.9V2.9h8.9L10.2 6.6l1.5 3.7H2.8"/></svg>
<div class="b" style="left:781.70px;top:581.39px;width:54.30px;height:8.40px;border:1.2px solid #52b891;border-radius:5px;background:#fff;"></div>
<div class="t" style="left:841.80px;top:575.99px;line-height:20px;font-size:9.5px;color:#52b891;letter-spacing:0.085px;-webkit-text-stroke:0.25px #52b891;">0%</div>
<svg class="b" style="left:897.00px;top:583.09px" width="16" height="6" viewBox="0 0 16 6"><circle cx="3.9000000000000004" cy="3" r="0.88" fill="#4d5158"/><circle cx="8" cy="3" r="0.88" fill="#4d5158"/><circle cx="12.1" cy="3" r="0.88" fill="#4d5158"/></svg>
<div class="b" style="left:93.00px;top:601.00px;width:1399.50px;height:1.00px;background:#f2f3f3;"></div>
<svg class="b" style="left:142.10px;top:609.50px" width="16" height="16" viewBox="0 0 16 16"><circle cx="8" cy="8" r="5.55" fill="none" stroke="#2f46ab" stroke-width="1.7" stroke-dasharray="3.051 1.308" transform="rotate(-105.75 8 8)"/></svg>
<div class="t" style="left:168.50px;top:608.55px;line-height:20px;font-size:13.5px;color:#25282d;letter-spacing:-0.040px;-webkit-text-stroke:0.4px #25282d;">Open general access tickets</div>
<div class="b" style="left:420.10px;top:606.05px;width:64.90px;height:21.80px;background:#2f46ab;border-radius:4.5px;"></div>
<svg class="b" style="left:423.60px;top:609.20px" width="16" height="16" viewBox="0 0 16 16"><circle cx="8" cy="8" r="5.55" fill="none" stroke="#fff" stroke-width="1.9" stroke-dasharray="3.051 1.308" transform="rotate(-105.75 8 8)"/></svg>
<div class="t" style="left:444.00px;top:606.45px;line-height:20px;font-size:11px;color:#fff;letter-spacing:-0.647px;word-spacing:2.2px;-webkit-text-stroke:0.2px #fff;">TO DO</div>
<svg class="b" style="left:510.00px;top:609.25px" width="16" height="16" viewBox="0 0 16 16" fill="none" stroke="#70747b" stroke-width="1.15" stroke-linecap="round" stroke-linejoin="round"><g transform="translate(0.45 0.6) scale(0.95)"><circle cx="7.7" cy="5.4" r="3.1"/><path d="M5.6 7.9C3.8 8.9 2.7 10.9 2.6 13.3H7.4"/><path d="M11.8 9.3c0.2 1.5 0.8 2.1 2.3 2.3c-1.5 0.2-2.1 0.8-2.3 2.3c-0.2-1.5-0.8-2.1-2.3-2.3c1.5-0.2 2.1-0.8 2.3-2.3z" fill="#70747b" stroke-width="0.3"/></g></svg>
<svg class="b" style="left:600.00px;top:609.25px" width="16" height="16" viewBox="0 0 16 16" fill="none" stroke="#70747b" stroke-width="1.15" stroke-linecap="round" stroke-linejoin="round"><path d="M7.600 13.700H4.400c-1 0-1.800-0.800-1.800-1.800V5.900c0-1 0.800-1.800 1.800-1.800h7.300c1 0 1.800 0.800 1.800 1.800v2.200"/><path d="M2.900 5.300h10.300" stroke-width="1.700"/><path d="M6.100 2.400v1.800M10.300 2.400v1.800" stroke-width="1.400"/><path d="M12.300 9.900v4.600M10 12.200h4.600" stroke-width="1.200"/></svg>
<svg class="b" style="left:689.90px;top:609.25px" width="16" height="16" viewBox="0 0 16 16" fill="none" stroke="#70747b" stroke-width="1.05" stroke-linecap="round" stroke-linejoin="round"><path d="M2.8 13.9V2.9h8.9L10.2 6.6l1.5 3.7H2.8"/></svg>
<div class="b" style="left:781.70px;top:613.05px;width:54.30px;height:8.40px;border:1.2px solid #52b891;border-radius:5px;background:#fff;"></div>
<div class="t" style="left:841.80px;top:607.65px;line-height:20px;font-size:9.5px;color:#52b891;letter-spacing:0.085px;-webkit-text-stroke:0.25px #52b891;">0%</div>
<svg class="b" style="left:897.00px;top:614.75px" width="16" height="6" viewBox="0 0 16 6"><circle cx="3.9000000000000004" cy="3" r="0.88" fill="#4d5158"/><circle cx="8" cy="3" r="0.88" fill="#4d5158"/><circle cx="12.1" cy="3" r="0.88" fill="#4d5158"/></svg>
<div class="b" style="left:93.00px;top:633.00px;width:1399.50px;height:1.00px;background:#f2f3f3;"></div>
<svg class="b" style="left:116.85px;top:641.16px" width="16" height="16" viewBox="0 0 16 16"><circle cx="8" cy="8" r="5.55" fill="none" stroke="#2f46ab" stroke-width="1.7" stroke-dasharray="3.051 1.308" transform="rotate(-105.75 8 8)"/></svg>
<svg class="b" style="left:99.50px;top:646.36px" width="8" height="6" viewBox="0 0 8 6"><path d="M0.9 0.6h6.2c0.5 0 0.7 0.5 0.4 0.9L4.5 5c-0.3 0.3-0.7 0.3-1 0L0.5 1.5C0.2 1.1 0.4 0.6 0.9 0.6z" fill="#7d8188"/></svg>
<div class="t" style="left:143.40px;top:640.21px;line-height:20px;font-size:13.5px;color:#25282d;letter-spacing:0.004px;-webkit-text-stroke:0.4px #25282d;">Plan activities</div>
<svg class="b" style="left:232.30px;top:641.71px" width="14" height="14" viewBox="0 0 14 14" fill="none" stroke="#80858d" stroke-width="1.05" stroke-linecap="round"><circle cx="3.800" cy="4.300" r="1.500"/><circle cx="9.500" cy="9.700" r="1.350"/><path d="M3.900 5.900v1.200c0 1.500 1.100 2.600 2.600 2.600h1.600"/></svg>
<div class="t" style="left:247.40px;top:638.61px;line-height:20px;font-size:12px;color:#7a7f87;letter-spacing:0.000px;">3</div>
<div class="b" style="left:420.10px;top:637.71px;width:64.90px;height:21.80px;background:#2f46ab;border-radius:4.5px;"></div>
<svg class="b" style="left:423.60px;top:640.86px" width="16" height="16" viewBox="0 0 16 16"><circle cx="8" cy="8" r="5.55" fill="none" stroke="#fff" stroke-width="1.9" stroke-dasharray="3.051 1.308" transform="rotate(-105.75 8 8)"/></svg>
<div class="t" style="left:444.00px;top:638.11px;line-height:20px;font-size:11px;color:#fff;letter-spacing:-0.647px;word-spacing:2.2px;-webkit-text-stroke:0.2px #fff;">TO DO</div>
<svg class="b" style="left:510.00px;top:640.91px" width="16" height="16" viewBox="0 0 16 16" fill="none" stroke="#70747b" stroke-width="1.15" stroke-linecap="round" stroke-linejoin="round"><g transform="translate(0.45 0.6) scale(0.95)"><circle cx="7.7" cy="5.4" r="3.1"/><path d="M5.6 7.9C3.8 8.9 2.7 10.9 2.6 13.3H7.4"/><path d="M11.8 9.3c0.2 1.5 0.8 2.1 2.3 2.3c-1.5 0.2-2.1 0.8-2.3 2.3c-0.2-1.5-0.8-2.1-2.3-2.3c1.5-0.2 2.1-0.8 2.3-2.3z" fill="#70747b" stroke-width="0.3"/></g></svg>
<svg class="b" style="left:600.00px;top:640.91px" width="16" height="16" viewBox="0 0 16 16" fill="none" stroke="#70747b" stroke-width="1.15" stroke-linecap="round" stroke-linejoin="round"><path d="M7.600 13.700H4.400c-1 0-1.800-0.800-1.800-1.800V5.900c0-1 0.800-1.800 1.800-1.800h7.300c1 0 1.800 0.800 1.800 1.800v2.200"/><path d="M2.900 5.300h10.300" stroke-width="1.700"/><path d="M6.100 2.400v1.800M10.300 2.400v1.800" stroke-width="1.400"/><path d="M12.300 9.900v4.600M10 12.200h4.600" stroke-width="1.200"/></svg>
<svg class="b" style="left:689.90px;top:640.91px" width="16" height="16" viewBox="0 0 16 16" fill="none" stroke="#70747b" stroke-width="1.05" stroke-linecap="round" stroke-linejoin="round"><path d="M2.8 13.9V2.9h8.9L10.2 6.6l1.5 3.7H2.8"/></svg>
<div class="b" style="left:781.70px;top:644.71px;width:54.30px;height:8.40px;border:1.2px solid #52b891;border-radius:5px;background:#fff;"></div>
<div class="t" style="left:841.80px;top:639.31px;line-height:20px;font-size:9.5px;color:#52b891;letter-spacing:0.085px;-webkit-text-stroke:0.25px #52b891;">0%</div>
<svg class="b" style="left:897.00px;top:646.41px" width="16" height="6" viewBox="0 0 16 6"><circle cx="3.9000000000000004" cy="3" r="0.88" fill="#4d5158"/><circle cx="8" cy="3" r="0.88" fill="#4d5158"/><circle cx="12.1" cy="3" r="0.88" fill="#4d5158"/></svg>
<div class="b" style="left:93.00px;top:664.00px;width:1399.50px;height:1.00px;background:#f2f3f3;"></div>
<svg class="b" style="left:142.10px;top:672.82px" width="16" height="16" viewBox="0 0 16 16"><circle cx="8" cy="8" r="5.55" fill="none" stroke="#2f46ab" stroke-width="1.7" stroke-dasharray="3.051 1.308" transform="rotate(-105.75 8 8)"/></svg>
<div class="t" style="left:168.50px;top:671.87px;line-height:20px;font-size:13.5px;color:#25282d;letter-spacing:-0.086px;-webkit-text-stroke:0.4px #25282d;">Obtain speakers bios and assets for ...</div>
<div class="b" style="left:420.10px;top:669.37px;width:64.90px;height:21.80px;background:#2f46ab;border-radius:4.5px;"></div>
<svg class="b" style="left:423.60px;top:672.52px" width="16" height="16" viewBox="0 0 16 16"><circle cx="8" cy="8" r="5.55" fill="none" stroke="#fff" stroke-width="1.9" stroke-dasharray="3.051 1.308" transform="rotate(-105.75 8 8)"/></svg>
<div class="t" style="left:444.00px;top:669.77px;line-height:20px;font-size:11px;color:#fff;letter-spacing:-0.647px;word-spacing:2.2px;-webkit-text-stroke:0.2px #fff;">TO DO</div>
<svg class="b" style="left:510.00px;top:672.57px" width="16" height="16" viewBox="0 0 16 16" fill="none" stroke="#70747b" stroke-width="1.15" stroke-linecap="round" stroke-linejoin="round"><g transform="translate(0.45 0.6) scale(0.95)"><circle cx="7.7" cy="5.4" r="3.1"/><path d="M5.6 7.9C3.8 8.9 2.7 10.9 2.6 13.3H7.4"/><path d="M11.8 9.3c0.2 1.5 0.8 2.1 2.3 2.3c-1.5 0.2-2.1 0.8-2.3 2.3c-0.2-1.5-0.8-2.1-2.3-2.3c1.5-0.2 2.1-0.8 2.3-2.3z" fill="#70747b" stroke-width="0.3"/></g></svg>
<svg class="b" style="left:600.00px;top:672.57px" width="16" height="16" viewBox="0 0 16 16" fill="none" stroke="#70747b" stroke-width="1.15" stroke-linecap="round" stroke-linejoin="round"><path d="M7.600 13.700H4.400c-1 0-1.800-0.800-1.800-1.800V5.900c0-1 0.800-1.800 1.800-1.800h7.300c1 0 1.800 0.800 1.800 1.800v2.200"/><path d="M2.900 5.300h10.300" stroke-width="1.700"/><path d="M6.100 2.400v1.800M10.300 2.400v1.800" stroke-width="1.400"/><path d="M12.300 9.900v4.600M10 12.200h4.600" stroke-width="1.200"/></svg>
<svg class="b" style="left:689.90px;top:672.57px" width="16" height="16" viewBox="0 0 16 16" fill="none" stroke="#70747b" stroke-width="1.05" stroke-linecap="round" stroke-linejoin="round"><path d="M2.8 13.9V2.9h8.9L10.2 6.6l1.5 3.7H2.8"/></svg>
<div class="b" style="left:781.70px;top:676.37px;width:54.30px;height:8.40px;border:1.2px solid #52b891;border-radius:5px;background:#fff;"></div>
<div class="t" style="left:841.80px;top:670.97px;line-height:20px;font-size:9.5px;color:#52b891;letter-spacing:0.085px;-webkit-text-stroke:0.25px #52b891;">0%</div>
<svg class="b" style="left:897.00px;top:678.07px" width="16" height="6" viewBox="0 0 16 6"><circle cx="3.9000000000000004" cy="3" r="0.88" fill="#4d5158"/><circle cx="8" cy="3" r="0.88" fill="#4d5158"/><circle cx="12.1" cy="3" r="0.88" fill="#4d5158"/></svg>
<div class="b" style="left:93.00px;top:696.00px;width:1399.50px;height:1.00px;background:#f2f3f3;"></div>
<svg class="b" style="left:142.10px;top:704.48px" width="16" height="16" viewBox="0 0 16 16"><circle cx="8" cy="8" r="5.55" fill="none" stroke="#2f46ab" stroke-width="1.7" stroke-dasharray="3.051 1.308" transform="rotate(-105.75 8 8)"/></svg>
<div class="t" style="left:168.50px;top:703.53px;line-height:20px;font-size:13.5px;color:#25282d;letter-spacing:-0.161px;-webkit-text-stroke:0.4px #25282d;">Create a speaking agenda</div>
<div class="b" style="left:420.10px;top:701.03px;width:64.90px;height:21.80px;background:#2f46ab;border-radius:4.5px;"></div>
<svg class="b" style="left:423.60px;top:704.18px" width="16" height="16" viewBox="0 0 16 16"><circle cx="8" cy="8" r="5.55" fill="none" stroke="#fff" stroke-width="1.9" stroke-dasharray="3.051 1.308" transform="rotate(-105.75 8 8)"/></svg>
<div class="t" style="left:444.00px;top:701.43px;line-height:20px;font-size:11px;color:#fff;letter-spacing:-0.647px;word-spacing:2.2px;-webkit-text-stroke:0.2px #fff;">TO DO</div>
<svg class="b" style="left:510.00px;top:704.23px" width="16" height="16" viewBox="0 0 16 16" fill="none" stroke="#70747b" stroke-width="1.15" stroke-linecap="round" stroke-linejoin="round"><g transform="translate(0.45 0.6) scale(0.95)"><circle cx="7.7" cy="5.4" r="3.1"/><path d="M5.6 7.9C3.8 8.9 2.7 10.9 2.6 13.3H7.4"/><path d="M11.8 9.3c0.2 1.5 0.8 2.1 2.3 2.3c-1.5 0.2-2.1 0.8-2.3 2.3c-0.2-1.5-0.8-2.1-2.3-2.3c1.5-0.2 2.1-0.8 2.3-2.3z" fill="#70747b" stroke-width="0.3"/></g></svg>
<svg class="b" style="left:600.00px;top:704.23px" width="16" height="16" viewBox="0 0 16 16" fill="none" stroke="#70747b" stroke-width="1.15" stroke-linecap="round" stroke-linejoin="round"><path d="M7.600 13.700H4.400c-1 0-1.800-0.800-1.800-1.800V5.900c0-1 0.800-1.800 1.800-1.800h7.300c1 0 1.800 0.800 1.800 1.800v2.200"/><path d="M2.900 5.300h10.300" stroke-width="1.700"/><path d="M6.100 2.400v1.800M10.300 2.400v1.800" stroke-width="1.400"/><path d="M12.300 9.900v4.600M10 12.200h4.600" stroke-width="1.200"/></svg>
<svg class="b" style="left:689.90px;top:704.23px" width="16" height="16" viewBox="0 0 16 16" fill="none" stroke="#70747b" stroke-width="1.05" stroke-linecap="round" stroke-linejoin="round"><path d="M2.8 13.9V2.9h8.9L10.2 6.6l1.5 3.7H2.8"/></svg>
<div class="b" style="left:781.70px;top:708.03px;width:54.30px;height:8.40px;border:1.2px solid #52b891;border-radius:5px;background:#fff;"></div>
<div class="t" style="left:841.80px;top:702.63px;line-height:20px;font-size:9.5px;color:#52b891;letter-spacing:0.085px;-webkit-text-stroke:0.25px #52b891;">0%</div>
<svg class="b" style="left:897.00px;top:709.73px" width="16" height="6" viewBox="0 0 16 6"><circle cx="3.9000000000000004" cy="3" r="0.88" fill="#4d5158"/><circle cx="8" cy="3" r="0.88" fill="#4d5158"/><circle cx="12.1" cy="3" r="0.88" fill="#4d5158"/></svg>
<div class="b" style="left:93.00px;top:728.00px;width:1399.50px;height:1.00px;background:#f2f3f3;"></div>
<svg class="b" style="left:142.10px;top:736.14px" width="16" height="16" viewBox="0 0 16 16"><circle cx="8" cy="8" r="5.55" fill="none" stroke="#2f46ab" stroke-width="1.7" stroke-dasharray="3.051 1.308" transform="rotate(-105.75 8 8)"/></svg>
<div class="t" style="left:168.50px;top:735.19px;line-height:20px;font-size:13.5px;color:#25282d;letter-spacing:-0.067px;-webkit-text-stroke:0.4px #25282d;">Prepare tokens for speakers/ guests</div>
<div class="b" style="left:420.10px;top:732.69px;width:64.90px;height:21.80px;background:#2f46ab;border-radius:4.5px;"></div>
<svg class="b" style="left:423.60px;top:735.84px" width="16" height="16" viewBox="0 0 16 16"><circle cx="8" cy="8" r="5.55" fill="none" stroke="#fff" stroke-width="1.9" stroke-dasharray="3.051 1.308" transform="rotate(-105.75 8 8)"/></svg>
<div class="t" style="left:444.00px;top:733.09px;line-height:20px;font-size:11px;color:#fff;letter-spacing:-0.647px;word-spacing:2.2px;-webkit-text-stroke:0.2px #fff;">TO DO</div>
<svg class="b" style="left:510.00px;top:735.89px" width="16" height="16" viewBox="0 0 16 16" fill="none" stroke="#70747b" stroke-width="1.15" stroke-linecap="round" stroke-linejoin="round"><g transform="translate(0.45 0.6) scale(0.95)"><circle cx="7.7" cy="5.4" r="3.1"/><path d="M5.6 7.9C3.8 8.9 2.7 10.9 2.6 13.3H7.4"/><path d="M11.8 9.3c0.2 1.5 0.8 2.1 2.3 2.3c-1.5 0.2-2.1 0.8-2.3 2.3c-0.2-1.5-0.8-2.1-2.3-2.3c1.5-0.2 2.1-0.8 2.3-2.3z" fill="#70747b" stroke-width="0.3"/></g></svg>
<svg class="b" style="left:600.00px;top:735.89px" width="16" height="16" viewBox="0 0 16 16" fill="none" stroke="#70747b" stroke-width="1.15" stroke-linecap="round" stroke-linejoin="round"><path d="M7.600 13.700H4.400c-1 0-1.800-0.800-1.800-1.800V5.900c0-1 0.800-1.800 1.800-1.800h7.300c1 0 1.800 0.800 1.800 1.800v2.200"/><path d="M2.900 5.300h10.300" stroke-width="1.700"/><path d="M6.100 2.400v1.800M10.300 2.400v1.800" stroke-width="1.400"/><path d="M12.300 9.900v4.600M10 12.200h4.600" stroke-width="1.200"/></svg>
<svg class="b" style="left:689.90px;top:735.89px" width="16" height="16" viewBox="0 0 16 16" fill="none" stroke="#70747b" stroke-width="1.05" stroke-linecap="round" stroke-linejoin="round"><path d="M2.8 13.9V2.9h8.9L10.2 6.6l1.5 3.7H2.8"/></svg>
<div class="b" style="left:781.70px;top:739.69px;width:54.30px;height:8.40px;border:1.2px solid #52b891;border-radius:5px;background:#fff;"></div>
<div class="t" style="left:841.80px;top:734.29px;line-height:20px;font-size:9.5px;color:#52b891;letter-spacing:0.085px;-webkit-text-stroke:0.25px #52b891;">0%</div>
<svg class="b" style="left:897.00px;top:741.39px" width="16" height="6" viewBox="0 0 16 6"><circle cx="3.9000000000000004" cy="3" r="0.88" fill="#4d5158"/><circle cx="8" cy="3" r="0.88" fill="#4d5158"/><circle cx="12.1" cy="3" r="0.88" fill="#4d5158"/></svg>
<svg class="b" style="left:15.9px;top:3.4px" width="16" height="19" viewBox="0 0 16 19" fill="none" stroke-linecap="round">
<defs><linearGradient id="lg1" x1="0" y1="0" x2="1" y2="0"><stop offset="0" stop-color="#e63fc0"/><stop offset="0.5" stop-color="#f2685c"/><stop offset="1" stop-color="#ffa31a"/></linearGradient>
<linearGradient id="lg2" x1="0" y1="0" x2="1" y2="0"><stop offset="0" stop-color="#5a4ce6"/><stop offset="1" stop-color="#4fa4ff"/></linearGradient></defs>
<path d="M3.500 7.700L7.500 4.100L11.400 7.700" stroke="url(#lg1)" stroke-width="2.900" stroke-linejoin="round"/>
<path d="M2.900 13.300C5.400 16.100 9.400 16.100 11.900 13.300" stroke="url(#lg2)" stroke-width="2.600"/></svg>
<svg class="b" style="left:543.30px;top:5.60px" width="16" height="16" viewBox="0 0 16 16" fill="none" stroke="#62676f" stroke-width="1.15" stroke-linecap="round" stroke-linejoin="round" ><path d="M4.3 4.4h7.4c0.9 0 1.7 0.8 1.7 1.7v5.6c0 0.9-0.8 1.7-1.7 1.7H4.3c-0.9 0-1.7-0.8-1.7-1.7V6.1c0-0.9 0.8-1.7 1.7-1.7z"/><path d="M3 5.6h10" stroke-width="2"/><path d="M5.9 2.8v1.8M10.1 2.8v1.8" stroke-width="1.5"/></svg>
<svg class="b" style="left:577.50px;top:5.10px" width="16" height="16" viewBox="0 0 16 16" fill="none" stroke="#ecd3f0" stroke-width="1.25" stroke-linecap="round" stroke-linejoin="round" ><circle cx="7.3" cy="7.3" r="4.6"/><path d="M10.8 10.8L13.6 13.6"/></svg>
<svg class="b" style="left:930.65px;top:6.50px" width="14" height="14" viewBox="0 0 14 14" fill="#dcbbe2"><circle cx="11.05" cy="7.00" r="2.4"/><circle cx="9.03" cy="10.51" r="2.4"/><circle cx="4.98" cy="10.51" r="2.4"/><circle cx="2.95" cy="7.00" r="2.4"/><circle cx="4.97" cy="3.49" r="2.4"/><circle cx="9.03" cy="3.49" r="2.4"/><circle cx="7" cy="7" r="3.6"/><path d="M7 4.300L9.600 7L7 9.700L4.400 7z" fill="#b05cbd"/></svg>
<svg class="b" style="left:1231.10px;top:5.70px" width="16" height="16" viewBox="0 0 16 16" fill="none" stroke="#ffffff" stroke-width="1.3" stroke-linecap="round" stroke-linejoin="round" ><circle cx="8" cy="8" r="5.6"/><path d="M8 5.5v5M5.5 8h5"/></svg>
<svg class="b" style="left:1309px;top:5.15px" width="16" height="16" viewBox="0 0 16 16"><circle cx="8" cy="8" r="6.2" fill="#fff"/><path d="M5.2 8.2l2 2l3.6-3.9" fill="none" stroke="#a13fb2" stroke-width="1.6" stroke-linecap="round" stroke-linejoin="round"/></svg>
<svg class="b" style="left:1341.50px;top:5.15px" width="16" height="16" viewBox="0 0 16 16" fill="none" stroke="#ffffff" stroke-width="1.25" stroke-linecap="round" stroke-linejoin="round" ><rect x="2.9" y="3.1" width="10.2" height="10.9" rx="2.2"/><path d="M5.9 1.9v2.2M10.1 1.9v2.2" stroke-width="1.4"/><path d="M5.6 7h4.8M5.6 9.2h4.8M5.6 11.3h2.6" stroke-width="1.1"/></svg>
<svg class="b" style="left:1374.20px;top:5.15px" width="16" height="16" viewBox="0 0 16 16" fill="none" stroke="#ffffff" stroke-width="1.3" stroke-linecap="round" stroke-linejoin="round" ><rect x="1.3" y="3" width="9.4" height="10" rx="2.4"/><path d="M10.8 6.6l2.4-1.4c0.6-0.3 1.3 0.1 1.3 0.8v4c0 0.7-0.7 1.1-1.3 0.8l-2.4-1.4"/></svg>
<svg class="b" style="left:1406.70px;top:5.15px" width="16" height="16" viewBox="0 0 16 16" fill="none" stroke="#ffffff" stroke-width="1.25" stroke-linecap="round" stroke-linejoin="round" ><circle cx="8" cy="8.3" r="4.9"/><path d="M8 5.8v2.7l1.6 1.3" stroke-width="1.2"/><path d="M2.6 4.2C2.8 3 3.8 2.3 5 2.5M13.4 4.2C13.2 3 12.2 2.3 11 2.5" /><path d="M4.3 12.4L3 13.9M11.7 12.4L13 13.9"/></svg>
<svg class="b" style="left:1439.40px;top:5.15px" width="16" height="16" viewBox="0 0 16 16" fill="none" stroke="#ffffff" stroke-width="1.25" stroke-linecap="round" stroke-linejoin="round" ><path d="M4.8 2.1h4.6l3.5 3.5v6.5c0 1.2-0.9 2.1-2.1 2.1H4.8c-1.2 0-2.1-0.9-2.1-2.1V4.2c0-1.2 0.9-2.1 2.1-2.1z"/><path d="M9.3 2.3v2.2c0 0.7 0.5 1.2 1.2 1.2h2.2" stroke-width="1.1"/><path d="M5.3 8h3M5.3 9.9h5.2M5.3 11.8h5.2" stroke-width="1.1"/></svg>
<svg class="b" style="left:1472px;top:5.2px" width="16" height="16" viewBox="0 0 16 16" fill="#fff"><rect x="2.45" y="2.45" width="2.3" height="2.3" rx="0.8"/><rect x="2.45" y="6.85" width="2.3" height="2.3" rx="0.8"/><rect x="2.45" y="11.25" width="2.3" height="2.3" rx="0.8"/><rect x="6.85" y="2.45" width="2.3" height="2.3" rx="0.8"/><rect x="6.85" y="6.85" width="2.3" height="2.3" rx="0.8"/><rect x="6.85" y="11.25" width="2.3" height="2.3" rx="0.8"/><rect x="11.25" y="2.45" width="2.3" height="2.3" rx="0.8"/><rect x="11.25" y="6.85" width="2.3" height="2.3" rx="0.8"/><rect x="11.25" y="11.25" width="2.3" height="2.3" rx="0.8"/></svg>
<svg class="b" style="left:1521.80px;top:5.40px" width="16" height="16" viewBox="0 0 16 16" fill="none" stroke="#e6c6ea" stroke-width="1.2" stroke-linecap="round" stroke-linejoin="round" ><path d="M5.6 6.9L8 9.2l2.4-2.3"/></svg>
<svg class="b" style="left:33.80px;top:45.10px" width="16" height="16" viewBox="0 0 16 16" fill="none" stroke="#7a7f87" stroke-width="1.1" stroke-linecap="round" stroke-linejoin="round" ><path d="M5.800 7L8 9.100L10.200 7"/></svg>
<svg class="b" style="left:14.50px;top:88.40px" width="18" height="18" viewBox="0 0 18 18" fill="none" stroke="#454950" stroke-width="1.3" stroke-linecap="round" stroke-linejoin="round" ><path d="M9 2.500L14.600 6.300c0.600 0.400 0.900 1 0.900 1.700v5.200c0 1.200-0.900 2.100-2.100 2.100H4.600c-1.200 0-2.100-0.900-2.100-2.100V8c0-0.700 0.300-1.300 0.900-1.700z"/><path d="M6.700 11.300c1.300 1.100 3.300 1.100 4.600 0" stroke-width="1.2"/></svg>
<svg class="b" style="left:14.50px;top:119.40px" width="18" height="18" viewBox="0 0 18 18" fill="none" stroke="#454950" stroke-width="1.3" stroke-linecap="round" stroke-linejoin="round" ><g transform="translate(9 9) scale(0.93) translate(-9 -9)"><path d="M2.500 9.300V7.300c0-2.600 2.100-4.700 4.700-4.700h3.600c2.600 0 4.700 2.100 4.700 4.700v4.100c0 2.300-1.900 4.200-4.200 4.200H6.700c-2.300 0-4.200-1.900-4.200-4.200z"/><path d="M2.700 8.900h3.200c0.300 1.500 1.500 2.500 3.100 2.500s2.800-1 3.100-2.500h3.200" stroke-width="1.200"/></g></svg>
<svg class="b" style="left:14.50px;top:150.10px" width="18" height="18" viewBox="0 0 18 18" fill="none" stroke="#454950" stroke-width="1.3" stroke-linecap="round" stroke-linejoin="round" ><path d="M5 2.700h8c1.400 0 2.400 1 2.400 2.400v5.700c0 1.400-1 2.400-2.400 2.400H10.500L9 14.900L7.500 13.200H5c-1.400 0-2.400-1-2.400-2.400V5.100c0-1.400 1-2.400 2.400-2.400z"/><path d="M5.800 6.700h6.400M5.800 9.300h3.800" stroke-width="1.150"/></svg>
<svg class="b" style="left:14.50px;top:181.10px" width="18" height="18" viewBox="0 0 18 18" fill="none" stroke="#454950" stroke-width="1.3" stroke-linecap="round" stroke-linejoin="round" ><g transform="translate(9 9) scale(0.92) translate(-9 -9)"><circle cx="9" cy="7.300" r="2.400"/><path d="M4.800 14.600c0.200-2.400 1.900-4 4.200-4s4 1.600 4.200 4" /><path d="M5.300 4.300c-1.200-0.300-2.400 0.500-2.400 1.800c0 0.800 0.400 1.400 1 1.700M3.100 9.300C1.900 9.900 1.200 11 1.100 12.500M12.700 4.300c1.200-0.300 2.400 0.500 2.400 1.800c0 0.800-0.400 1.400-1 1.700M14.900 9.300c1.200 0.600 1.900 1.700 2 3.200" stroke-width="1.200"/></g></svg>
<svg class="b" style="left:14.50px;top:211.90px" width="18" height="18" viewBox="0 0 18 18" fill="none" stroke="#454950" stroke-width="1.3" stroke-linecap="round" stroke-linejoin="round" ><g transform="translate(9 9) scale(0.92) translate(-9 -9)"><path d="M5.400 2.200h4.800l3.900 3.900v7.300c0 1.300-1 2.300-2.300 2.300H5.400c-1.300 0-2.300-1-2.300-2.300V4.500c0-1.300 1-2.300 2.300-2.300z"/><path d="M10 2.400v2.600c0 0.800 0.500 1.300 1.300 1.300h2.600" stroke-width="1.100"/><path d="M5.900 7.300h2.200M5.900 9.600h6.200M5.900 11.900h6.200" stroke-width="1.100"/></g></svg>
<svg class="b" style="left:14.50px;top:242.60px" width="18" height="18" viewBox="0 0 18 18" fill="none" stroke="#454950" stroke-width="1.3" stroke-linecap="round" stroke-linejoin="round" ><g transform="translate(9 9) scale(0.92) translate(-9 -9)"><rect x="2.500" y="2.400" width="13" height="13.200" rx="3"/><path d="M6.300 12.500v-1.300M9 12.500V8.800M11.700 12.500V6.300" stroke-width="1.500"/></g></svg>
<svg class="b" style="left:14.50px;top:273.50px" width="18" height="18" viewBox="0 0 18 18" fill="none" stroke="#454950" stroke-width="1.3" stroke-linecap="round" stroke-linejoin="round" ><g transform="translate(9 9) scale(0.95) translate(-9 -9)"><rect x="2.500" y="2.600" width="13" height="12.800" rx="3"/><path d="M7.800 6.100c-1.300 1.100-2 2.600-1.500 3.400c0.500 0.700 1.700-0.500 2.200-1.500c0.200 1.300 0.300 2.900 1.100 3c0.800 0.100 1.300-0.900 2.700-1.300" stroke-width="1.200"/></g></svg>
<svg class="b" style="left:14.50px;top:304.20px" width="18" height="18" viewBox="0 0 18 18" fill="none" stroke="#454950" stroke-width="1.3" stroke-linecap="round" stroke-linejoin="round" ><g transform="translate(9 9) scale(0.9) translate(-9 -9)"><path d="M6.500 3.700H5.600c-1.300 0-2.300 1-2.300 2.300v7.300c0 1.300 1 2.300 2.300 2.300h6.800c1.300 0 2.300-1 2.300-2.300V6c0-1.300-1-2.300-2.300-2.300h-0.900"/><rect x="6.500" y="2.300" width="5" height="2.700" rx="1.300"/><path d="M6.700 10.200l1.700 1.700l3-3.300" stroke-width="1.400"/></g></svg>
<svg class="b" style="left:14.50px;top:335.10px" width="18" height="18" viewBox="0 0 18 18" fill="none" stroke="#454950" stroke-width="1.3" stroke-linecap="round" stroke-linejoin="round" ><g transform="translate(9 9) scale(0.9) translate(-9 -9)"><path d="M4.300 3.500h5.600c1.600 0 2.800 1.200 2.800 2.800v5.400c0 1.600-1.200 2.800-2.800 2.800H4.300c-1.600 0-2.800-1.200-2.800-2.800V6.300c0-1.600 1.200-2.800 2.800-2.800z" stroke-width="1.400"/><path d="M12.800 7.400l2.600-1.700c0.700-0.400 1.500 0.100 1.500 0.900v4.800c0 0.800-0.800 1.300-1.500 0.900l-2.600-1.700" stroke-width="1.400"/></g></svg>
<svg class="b" style="left:14.50px;top:366.20px" width="18" height="18" viewBox="0 0 18 18" fill="none" stroke="#454950" stroke-width="1.3" stroke-linecap="round" stroke-linejoin="round" ><circle cx="9" cy="9" r="0.900" fill="#454950" stroke="none"/><path d="M6.900 6.700c-1.100 1.300-1.100 3.300 0 4.600M11.100 6.700c1.100 1.300 1.100 3.300 0 4.600M4.500 4.200c-2.400 2.700-2.400 6.900 0 9.600M13.500 4.200c2.400 2.700 2.400 6.900 0 9.600" stroke-width="1.200"/></svg>
<svg class="b" style="left:14.50px;top:396.70px" width="18" height="18" viewBox="0 0 18 18" fill="none" stroke="#454950" stroke-width="1.3" stroke-linecap="round" stroke-linejoin="round" ><path d="M5.300 2.600h7.400v4.600c0 2.100-1.600 3.800-3.700 3.800s-3.700-1.700-3.700-3.800z"/><path d="M5.300 4H3.900c-0.800 0-1.400 0.600-1.400 1.400c0 1.600 1.200 2.800 2.900 2.900M12.700 4h1.400c0.800 0 1.400 0.600 1.400 1.400c0 1.600-1.200 2.800-2.900 2.900"/><path d="M9 11.200v3.500M6 15.200h6"/></svg>
<svg class="b" style="left:14.50px;top:427.40px" width="18" height="18" viewBox="0 0 18 18" fill="none" stroke="#454950" stroke-width="1.3" stroke-linecap="round" stroke-linejoin="round" ><circle cx="9" cy="10" r="5.600"/><path d="M7.300 2.100h3.400M9 2.300v2M3.300 4.900l1.200 1.200M14.700 4.900l-1.200 1.200" stroke-width="1.200"/><path d="M7.700 7.600v4.800l3.800-2.400z" stroke-width="1.100"/></svg>
<svg class="b" style="left:14.50px;top:458.20px" width="18" height="18" viewBox="0 0 18 18" fill="none" stroke="#454950" stroke-width="1.3" stroke-linecap="round" stroke-linejoin="round" ><circle cx="9" cy="9" r="5.900"/><circle cx="6.300" cy="9" r="0.750" fill="#454950" stroke="none"/><circle cx="9" cy="9" r="0.750" fill="#454950" stroke="none"/><circle cx="11.700" cy="9" r="0.750" fill="#454950" stroke="none"/></svg>
<svg class="b" style="left:14.60px;top:506.80px" width="18" height="18" viewBox="0 0 18 18" fill="none" stroke="#454950" stroke-width="1.35" stroke-linecap="round" stroke-linejoin="round" ><path d="M9 2.500l2 4.200l4.600 0.600l-3.400 3.200l0.900 4.500L9 12.800l-4.100 2.200l0.900-4.500L2.400 7.300l4.600-0.600z"/></svg>
<div class="b" style="left:7.20px;top:531.50px;width:32.60px;height:28.90px;background:#f7e3fa;border-radius:7px;"></div>
<svg class="b" style="left:14.60px;top:537.10px" width="18" height="18" viewBox="0 0 18 18" fill="none" stroke="#a63fb5" stroke-width="1.2" stroke-linecap="round" stroke-linejoin="round" ><rect x="3.200" y="3.700" width="5" height="4.400" rx="1.400"/><rect x="9.900" y="3.700" width="5" height="4.400" rx="1.400"/><rect x="3.200" y="9.900" width="5" height="4.400" rx="1.400"/><rect x="9.900" y="9.900" width="5" height="4.400" rx="1.400"/></svg>
<svg class="b" style="left:14.50px;top:583.30px" width="18" height="18" viewBox="0 0 18 18" fill="none" stroke="#454950" stroke-width="1.3" stroke-linecap="round" stroke-linejoin="round" ><path d="M9 3.800v10.400M3.800 9h10.400"/></svg>
<svg class="b" style="left:14.50px;top:692.80px" width="18" height="18" viewBox="0 0 18 18" fill="none" stroke="#23262b" stroke-width="1.4" stroke-linecap="round" stroke-linejoin="round" ><circle cx="9" cy="5.600" r="3.500"/><path d="M6.500 8.400C4.500 9.500 3.100 11.700 3 14.700H8.600"/><path d="M13.500 10.300c0.250 1.700 0.900 2.350 2.600 2.600c-1.700 0.250-2.350 0.900-2.600 2.600c-0.250-1.700-0.900-2.350-2.600-2.600c1.700-0.250 2.350-0.900 2.600-2.600z" fill="#23262b" stroke-width="0.300"/></svg>
<svg class="b" style="left:14.50px;top:723.60px" width="18" height="18" viewBox="0 0 18 18" fill="none" stroke="#23262b" stroke-width="1.4" stroke-linecap="round" stroke-linejoin="round" ><circle cx="9.100" cy="9" r="6.100"/><path d="M7.300 7.400c0.100-1 0.800-1.600 1.800-1.600s1.800 0.700 1.800 1.600c0 1.400-1.800 1.500-1.800 2.900" stroke-width="1.300"/><circle cx="9.100" cy="12.200" r="0.800" fill="#23262b" stroke="none"/></svg>
<svg class="b" style="left:0;top:742px" width="5" height="7" viewBox="0 0 5 7"><path d="M0 1.200C1 3.200 2.200 5.200 3.600 7H0z" fill="#1a1a1a"/></svg>
<svg class="b" style="left:62.20px;top:45.00px" width="16" height="16" viewBox="0 0 16 16" fill="none" stroke="#5b5e63" stroke-width="1.25" stroke-linecap="round" stroke-linejoin="round" ><rect x="1.4" y="2.3" width="13.2" height="11.4" rx="2.6"/><path d="M6.6 2.5v11" /><path d="M3.5 5.3h1.2M3.5 7.3h1.2" stroke-width="0.9"/></svg>
<svg class="b" style="left:212.00px;top:45.40px" width="16" height="16" viewBox="0 0 16 16" fill="none" stroke="#5b5e63" stroke-width="1.3" stroke-linecap="round" stroke-linejoin="round" ><path d="M1.5 5.1l1 1l1.9-2.2M1.5 10.3l1 1l1.9-2.2" stroke-width="1.1"/><path d="M7.3 5.3h6.9M7.3 10.6h6.9" stroke-width="1.3"/></svg>
<svg class="b" style="left:324.00px;top:50.60px" width="16" height="6" viewBox="0 0 16 6"><circle cx="3.8" cy="3" r="0.95" fill="#5b5e63"/><circle cx="8" cy="3" r="0.95" fill="#5b5e63"/><circle cx="12.2" cy="3" r="0.95" fill="#5b5e63"/></svg>
<svg class="b" style="left:1187.60px;top:45.20px" width="16" height="16" viewBox="0 0 16 16" fill="none" stroke="#5b5e63" stroke-width="1.3" stroke-linecap="round" stroke-linejoin="round" ><path d="M13.760 9.190A5.700 5.700 0 1 0 7.160 13.810"/><circle cx="6.450" cy="6.600" r="0.950" fill="#5b5e63" stroke="none"/><circle cx="9.650" cy="6.600" r="0.950" fill="#5b5e63" stroke="none"/><path d="M6.900 9.500c0.700 0.500 1.700 0.500 2.400 0" stroke-width="1.150"/><path d="M11.900 9.200C12.300 10.700 12.900 11.400 14.500 11.900C12.900 12.400 12.300 13.100 11.900 14.600C11.500 13.100 10.900 12.400 9.300 11.900C10.900 11.400 11.500 10.700 11.900 9.200z" fill="#5b5e63" stroke-width="0.600"/></svg>
<svg class="b" style="left:1260.00px;top:45.10px" width="16" height="16" viewBox="0 0 16 16" fill="none" stroke="#5b5e63" stroke-width="1.3" stroke-linecap="round" stroke-linejoin="round" ><path d="M9.400 2.300L3.800 9h3.700L6.600 13.800L12.200 7.100H8.500z" /></svg>
<svg class="b" style="left:1349.80px;top:46.40px" width="14" height="14" viewBox="0 0 14 14"><circle cx="3.10" cy="7.00" r="2.55" fill="#c07ad8"/><circle cx="10.90" cy="7.00" r="2.55" fill="#7a4fe6"/><circle cx="5.05" cy="3.62" r="2.55" fill="#4a90ff"/><circle cx="8.95" cy="3.62" r="2.55" fill="#3f8cff"/><circle cx="8.95" cy="10.38" r="2.55" fill="#e83fd0"/><circle cx="5.05" cy="10.38" r="2.55" fill="#e8502e"/><circle cx="7" cy="7" r="2.800" fill="#b887e8"/><path d="M7 4.900L9.100 7L7 9.100L4.900 7z" fill="#fff"/></svg>
<svg class="b" style="left:1419.60px;top:45.10px" width="16" height="16" viewBox="0 0 16 16" fill="none" stroke="#5b5e63" stroke-width="1.2" stroke-linecap="round" stroke-linejoin="round" ><circle cx="6.6" cy="6" r="2.7"/><path d="M2.1 13.7c0-2.7 1.9-4.6 4.5-4.6s4.5 1.9 4.5 4.6z"/><path d="M9.6 2.5c1.5-0.4 3 0.6 3 2.3c0 1-0.5 1.7-1.200 2.100M12 8.700c1.2 0.600 1.900 1.800 2 3.300"/></svg>
<svg class="b" style="left:1485.60px;top:45.30px" width="16" height="16" viewBox="0 0 16 16" fill="none" stroke="#5b5e63" stroke-width="1.25" stroke-linecap="round" stroke-linejoin="round" ><g transform="translate(0.6 0.6) scale(0.925)"><path d="M4.6 2.900h6.800c1.200 0 2.100 0.900 2.100 2.100v4.400c0 1.200-0.900 2.100-2.100 2.100H7.300L5 13.400V11.500H4.600c-1.200 0-2.100-0.900-2.100-2.100V5c0-1.200 0.900-2.100 2.100-2.100z"/><path d="M5.300 6h5.400M5.300 8.300h3.400" stroke-width="1.05"/></g></svg>
<svg class="b" style="left:67.00px;top:89.70px" width="16" height="16" viewBox="0 0 16 16" fill="none" stroke="#6c6f75" stroke-width="1.2" stroke-linecap="round" stroke-linejoin="round" ><rect x="2.300" y="2.700" width="4.700" height="10.600" rx="1.700"/><rect x="9.200" y="2.600" width="4.900" height="5.900" rx="1.600"/></svg>
<svg class="b" style="left:77.30px;top:100.10px" width="8" height="8" viewBox="0 0 8 8"><path d="M2.500 3.500V2.900c0-0.850 0.650-1.500 1.500-1.500s1.500 0.650 1.500 1.500v0.600" fill="none" stroke="#45484d" stroke-width="1.100"/><rect x="0.900" y="3" width="6.200" height="4.400" rx="1.300" fill="#45484d"/><path d="M3 5.100h2" stroke="#fff" stroke-width="0.700"/></svg>
<svg class="b" style="left:135.30px;top:86.90px" width="9" height="9" viewBox="0 0 9 9"><path d="M3.900 0.600L8.200 4.500L6.900 4.900L5.900 6.200L5.600 7.800L1.300 4.100L2.900 3.500L3.900 2.300z" fill="#3f4247" stroke="#3f4247" stroke-width="0.500" stroke-linejoin="round"/><path d="M3.300 5.800L0.800 8.300" stroke="#3f4247" stroke-width="1" stroke-linecap="round"/></svg>
<svg class="b" style="left:137.60px;top:89.60px" width="16" height="16" viewBox="0 0 16 16" fill="none" stroke="#6c6f75" stroke-width="1.25" stroke-linecap="round" stroke-linejoin="round" ><g transform="translate(8 8) scale(0.93) translate(-8 -8)"><path d="M5.100 2.100h4.300l3.500 3.500v6.300c0 1.200-0.900 2.100-2.100 2.100H5.100c-1.200 0-2.100-0.900-2.100-2.100V4.200c0-1.200 0.900-2.100 2.100-2.100z"/><path d="M9.200 2.300v2.300c0 0.700 0.500 1.200 1.200 1.200h2.300" stroke-width="1"/><path d="M5.600 6.400h1.900M5.600 8.300h4.900M5.600 10.100h4.900M5.600 11.900h4.900" stroke-width="0.900"/></g></svg>
<svg class="b" style="left:303.20px;top:89.80px" width="16" height="16" viewBox="0 0 16 16" fill="none" stroke="#2a2e34" stroke-width="1.3" stroke-linecap="round" stroke-linejoin="round" ><path d="M6.300 4.400h6.800M6.300 8h6.800M6.300 11.700h6.800" stroke-width="1.400"/><path d="M2.900 4.400h0.600M2.900 8h0.600M2.900 11.700h0.600" stroke-width="1.400"/></svg>
<svg class="b" style="left:374.00px;top:89.80px" width="16" height="16" viewBox="0 0 16 16" fill="none" stroke="#6c6f75" stroke-width="1.2" stroke-linecap="round" stroke-linejoin="round" ><path d="M8 3.400v9.200M3.400 8h9.200"/></svg>
<svg class="b" style="left:1190.20px;top:89.50px" width="16" height="16" viewBox="0 0 16 16" fill="none" stroke="#6c6f75" stroke-width="1.25" stroke-linecap="round" stroke-linejoin="round" ><circle cx="7.400" cy="7.300" r="4.500"/><path d="M10.700 10.700l2.500 2.500"/></svg>
<svg class="b" style="left:1263.80px;top:89.80px" width="16" height="16" viewBox="0 0 16 16" fill="none" stroke="#a63fb5" stroke-width="1.3" stroke-linecap="round" stroke-linejoin="round" ><path d="M2.800 4.800h10.400M2.800 8h10.400M2.800 11.300h10.400" stroke-width="1.200"/><circle cx="4.400" cy="4.800" r="1.450" fill="#a63fb5" stroke="none"/><circle cx="11.300" cy="8" r="1.450" fill="#a63fb5" stroke="none"/><circle cx="5.800" cy="11.300" r="1.450" fill="#a63fb5" stroke="none"/></svg>
<svg class="b" style="left:1322.30px;top:89.70px" width="16" height="16" viewBox="0 0 16 16" fill="none" stroke="#6c6f75" stroke-width="1.3" stroke-linecap="round" stroke-linejoin="round" ><g transform="translate(8 8) scale(0.9) translate(-8 -8)"><path d="M13.65 6.70 L13.65 9.30 L12.41 9.31 L12.04 10.19 L12.92 11.07 L11.07 12.92 L10.19 12.04 L9.31 12.41 L9.30 13.65 L6.70 13.65 L6.69 12.41 L5.81 12.04 L4.93 12.92 L3.08 11.07 L3.96 10.19 L3.59 9.31 L2.35 9.30 L2.35 6.70 L3.59 6.69 L3.96 5.81 L3.08 4.93 L4.93 3.08 L5.81 3.96 L6.69 3.59 L6.70 2.35 L9.30 2.35 L9.31 3.59 L10.19 3.96 L11.07 3.08 L12.92 4.93 L12.04 5.81 L12.41 6.69z"/><circle cx="8" cy="8" r="1.900"/></g></svg>
<svg class="b" style="left:1485.40px;top:90.10px" width="16" height="16" viewBox="0 0 16 16" fill="none" stroke="#fff" stroke-width="1.2" stroke-linecap="round" stroke-linejoin="round" ><path d="M5.500 6.800L8 9.200l2.500-2.400"/></svg>
<svg class="b" style="left:1516.20px;top:90.50px" width="16" height="16" viewBox="0 0 16 16" fill="none" stroke="#5a5f67" stroke-width="1.15" stroke-linecap="round" stroke-linejoin="round" ><path d="M4.600 6.300L8 9.600L11.400 6.300"/></svg>
<svg class="b" style="left:68.00px;top:129.50px" width="16" height="16" viewBox="0 0 16 16" fill="none" stroke="#a63fb5" stroke-width="1.2" stroke-linecap="round" stroke-linejoin="round" ><g transform="translate(8 8) scale(0.87) translate(-8 -8)"><path d="M8 2.800l5.200 2.700L8 8.200L2.800 5.500z"/><path d="M2.900 8.300L8 10.900l5.100-2.600M2.900 10.900L8 13.500l5.100-2.600"/></g></svg>
<svg class="b" style="left:202.00px;top:129.60px" width="16" height="16" viewBox="0 0 16 16" fill="none" stroke="#a63fb5" stroke-width="1.2" stroke-linecap="round" stroke-linejoin="round" ><g transform="translate(8 8) scale(0.87) translate(-8 -8)"><circle cx="4.800" cy="5.200" r="1.450"/><circle cx="11.500" cy="10.900" r="1.450"/><path d="M4.800 6.700v1.500c0 1.500 1.200 2.700 2.700 2.700h2.500"/></g></svg>
<svg class="b" style="left:286.30px;top:129.40px" width="16" height="16" viewBox="0 0 16 16" fill="none" stroke="#6c6f75" stroke-width="1.15" stroke-linecap="round" stroke-linejoin="round" ><g transform="translate(8 8) scale(0.9) translate(-8 -8)"><rect x="2.700" y="2.900" width="10.600" height="10.200" rx="2.200"/><path d="M6.200 3v10M9.800 3v10"/></g></svg>
<svg class="b" style="left:1172.10px;top:129.50px" width="16" height="16" viewBox="0 0 16 16" fill="none" stroke="#74777d" stroke-width="1.05" stroke-linecap="round" stroke-linejoin="round" ><path d="M2.900 4.800h10.200M4.900 8h6.200M6.900 11.300h2.200"/></svg>
<svg class="b" style="left:1231.00px;top:129.70px" width="16" height="16" viewBox="0 0 16 16" fill="none" stroke="#6c6f75" stroke-width="1.15" stroke-linecap="round" stroke-linejoin="round" ><circle cx="8" cy="8" r="4.950"/><path d="M5.800 8.200l1.600 1.600l2.900-3.100"/></svg>
<svg class="b" style="left:1299.90px;top:129.70px" width="16" height="16" viewBox="0 0 16 16" fill="none" stroke="#6c6f75" stroke-width="1.1" stroke-linecap="round" stroke-linejoin="round" ><g transform="translate(8 8) scale(0.88) translate(-8 -8)"><circle cx="6.600" cy="6" r="2.500"/><path d="M2.500 13c0-2.400 1.700-4.100 4.100-4.100s4.100 1.700 4.100 4.100z"/><path d="M9.400 2.900c1.400-0.300 2.700 0.600 2.700 2.100c0 0.900-0.400 1.500-1.100 1.900M11.700 8.400c1.100 0.600 1.700 1.700 1.800 3"/></g></svg>
<svg class="b" style="left:70.20px;top:174.50px" width="8" height="6" viewBox="0 0 8 6"><path d="M0.9 0.6h6.2c0.5 0 0.7 0.5 0.4 0.9L4.5 5c-0.3 0.3-0.7 0.3-1 0L0.5 1.5C0.2 1.1 0.4 0.6 0.9 0.6z" fill="#7d8188"/></svg>
<svg class="b" style="left:222.70px;top:174.50px" width="16" height="6" viewBox="0 0 16 6"><circle cx="4" cy="3" r="0.9" fill="#6c6f75"/><circle cx="8" cy="3" r="0.9" fill="#6c6f75"/><circle cx="12" cy="3" r="0.9" fill="#6c6f75"/></svg>
<svg class="b" style="left:244.50px;top:169.30px" width="16" height="16" viewBox="0 0 16 16" fill="none" stroke="#6c6f75" stroke-width="1.2" stroke-linecap="round" stroke-linejoin="round" ><path d="M8 3.600v8.800M3.600 8h8.800"/></svg>
<svg class="b" style="left:896.60px;top:198.20px" width="16" height="16" viewBox="0 0 16 16" fill="none" stroke="#4a4f57" stroke-width="1.15" stroke-linecap="round" stroke-linejoin="round" ><circle cx="8" cy="8" r="5.500"/><path d="M8 5.600v4.800M5.600 8h4.800"/></svg>
</div></body></html>
